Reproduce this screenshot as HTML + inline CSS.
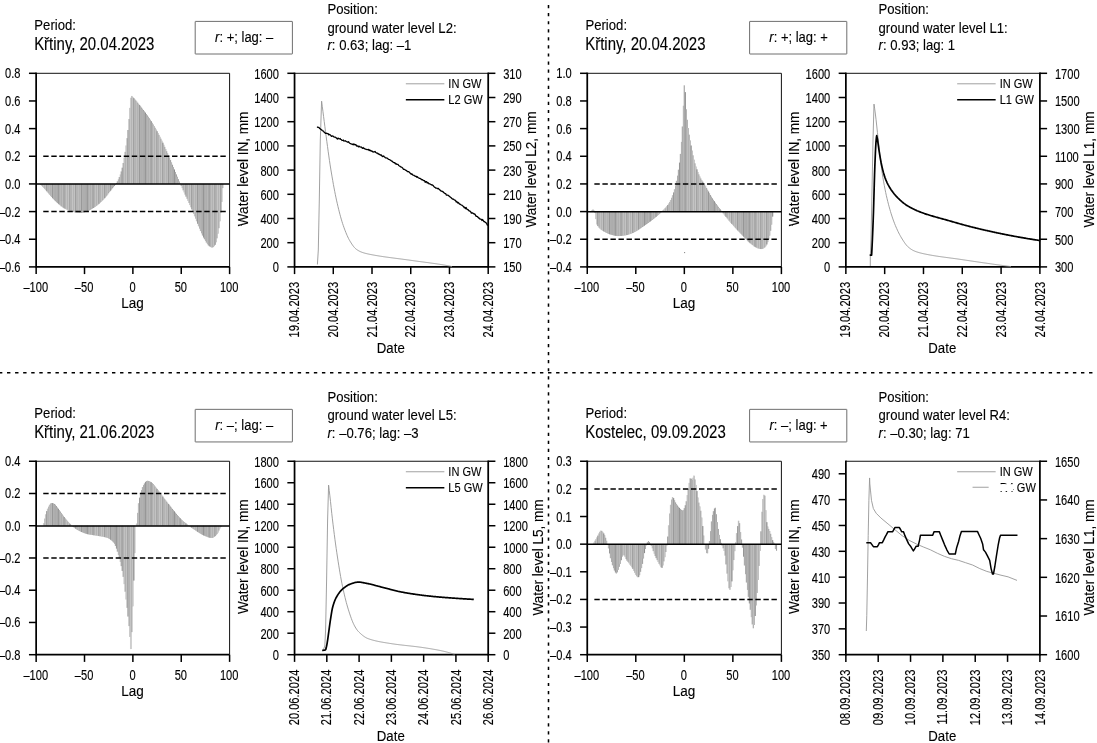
<!DOCTYPE html>
<html lang="en"><head><meta charset="utf-8"><title>Cross-correlation of water levels</title>
<style>html,body{margin:0;padding:0;background:#fff}body{width:1097px;height:743px;overflow:hidden}svg{display:block;will-change:transform}text{font-family:"Liberation Sans",Arial,sans-serif;stroke:#000;stroke-width:0.13px;paint-order:stroke}</style>
</head><body>
<svg width="1097" height="743" viewBox="0 0 1097 743" font-family="Liberation Sans, Arial, sans-serif">
<rect width="1097" height="743" fill="#fff"/>
<line x1="548.50" y1="5.00" x2="548.50" y2="743.00" stroke="#000" stroke-width="1.55" stroke-dasharray="3.2 4.87"/>
<line x1="-1.07" y1="372.75" x2="1097.00" y2="372.75" stroke="#000" stroke-width="1.65" stroke-dasharray="3.4 4.675"/>
<g fill="#9b9b9b"><rect x="40.50" y="183.93" width="0.996" height="1.01"/><rect x="41.47" y="183.93" width="0.996" height="2.04"/><rect x="42.44" y="183.93" width="0.996" height="3.07"/><rect x="43.40" y="183.93" width="0.996" height="4.11"/><rect x="44.37" y="183.93" width="0.996" height="5.16"/><rect x="45.34" y="183.93" width="0.996" height="6.22"/><rect x="46.31" y="183.93" width="0.996" height="7.32"/><rect x="47.27" y="183.93" width="0.996" height="8.45"/><rect x="48.24" y="183.93" width="0.996" height="9.61"/><rect x="49.21" y="183.93" width="0.996" height="10.79"/><rect x="50.18" y="183.93" width="0.996" height="11.96"/><rect x="51.14" y="183.93" width="0.996" height="13.12"/><rect x="52.11" y="183.93" width="0.996" height="14.24"/><rect x="53.08" y="183.93" width="0.996" height="15.32"/><rect x="54.04" y="183.93" width="0.996" height="16.34"/><rect x="55.01" y="183.93" width="0.996" height="17.29"/><rect x="55.98" y="183.93" width="0.996" height="18.19"/><rect x="56.95" y="183.93" width="0.996" height="19.08"/><rect x="57.91" y="183.93" width="0.996" height="19.95"/><rect x="58.88" y="183.93" width="0.996" height="20.80"/><rect x="59.85" y="183.93" width="0.996" height="21.62"/><rect x="60.81" y="183.93" width="0.996" height="22.40"/><rect x="61.78" y="183.93" width="0.996" height="23.12"/><rect x="62.75" y="183.93" width="0.996" height="23.78"/><rect x="63.72" y="183.93" width="0.996" height="24.37"/><rect x="64.68" y="183.93" width="0.996" height="24.89"/><rect x="65.65" y="183.93" width="0.996" height="25.36"/><rect x="66.62" y="183.93" width="0.996" height="25.80"/><rect x="67.59" y="183.93" width="0.996" height="26.22"/><rect x="68.55" y="183.93" width="0.996" height="26.61"/><rect x="69.52" y="183.93" width="0.996" height="26.98"/><rect x="70.49" y="183.93" width="0.996" height="27.32"/><rect x="71.45" y="183.93" width="0.996" height="27.62"/><rect x="72.42" y="183.93" width="0.996" height="27.90"/><rect x="73.39" y="183.93" width="0.996" height="28.14"/><rect x="74.36" y="183.93" width="0.996" height="28.35"/><rect x="75.32" y="183.93" width="0.996" height="28.54"/><rect x="76.29" y="183.93" width="0.996" height="28.73"/><rect x="77.26" y="183.93" width="0.996" height="28.89"/><rect x="78.23" y="183.93" width="0.996" height="29.00"/><rect x="79.19" y="183.93" width="0.996" height="29.04"/><rect x="80.16" y="183.93" width="0.996" height="29.00"/><rect x="81.13" y="183.93" width="0.996" height="28.89"/><rect x="82.09" y="183.93" width="0.996" height="28.74"/><rect x="83.06" y="183.93" width="0.996" height="28.55"/><rect x="84.03" y="183.93" width="0.996" height="28.35"/><rect x="85.00" y="183.93" width="0.996" height="28.10"/><rect x="85.96" y="183.93" width="0.996" height="27.78"/><rect x="86.93" y="183.93" width="0.996" height="27.39"/><rect x="87.90" y="183.93" width="0.996" height="26.94"/><rect x="88.87" y="183.93" width="0.996" height="26.44"/><rect x="89.83" y="183.93" width="0.996" height="25.90"/><rect x="90.80" y="183.93" width="0.996" height="25.33"/><rect x="91.77" y="183.93" width="0.996" height="24.73"/><rect x="92.73" y="183.93" width="0.996" height="24.12"/><rect x="93.70" y="183.93" width="0.996" height="23.51"/><rect x="94.67" y="183.93" width="0.996" height="22.87"/><rect x="95.64" y="183.93" width="0.996" height="22.18"/><rect x="96.60" y="183.93" width="0.996" height="21.44"/><rect x="97.57" y="183.93" width="0.996" height="20.66"/><rect x="98.54" y="183.93" width="0.996" height="19.83"/><rect x="99.50" y="183.93" width="0.996" height="18.97"/><rect x="100.47" y="183.93" width="0.996" height="18.08"/><rect x="101.44" y="183.93" width="0.996" height="17.15"/><rect x="102.41" y="183.93" width="0.996" height="16.19"/><rect x="103.37" y="183.93" width="0.996" height="15.21"/><rect x="104.34" y="183.93" width="0.996" height="14.17"/><rect x="105.31" y="183.93" width="0.996" height="13.04"/><rect x="106.28" y="183.93" width="0.996" height="11.85"/><rect x="107.24" y="183.93" width="0.996" height="10.60"/><rect x="108.21" y="183.93" width="0.996" height="9.33"/><rect x="109.18" y="183.93" width="0.996" height="8.05"/><rect x="110.14" y="183.93" width="0.996" height="6.77"/><rect x="111.11" y="183.93" width="0.996" height="5.53"/><rect x="112.08" y="183.93" width="0.996" height="4.37"/><rect x="113.05" y="183.93" width="0.996" height="3.25"/><rect x="114.01" y="183.93" width="0.996" height="2.08"/><rect x="114.98" y="183.93" width="0.996" height="0.75"/><rect x="115.95" y="183.12" width="0.996" height="0.81"/><rect x="116.92" y="181.34" width="0.996" height="2.59"/><rect x="117.88" y="179.33" width="0.996" height="4.60"/><rect x="118.85" y="177.04" width="0.996" height="6.89"/><rect x="119.82" y="174.44" width="0.996" height="9.49"/><rect x="120.78" y="171.48" width="0.996" height="12.45"/><rect x="121.75" y="167.72" width="0.996" height="16.21"/><rect x="122.72" y="162.98" width="0.996" height="20.95"/><rect x="123.69" y="157.65" width="0.996" height="26.27"/><rect x="124.65" y="151.89" width="0.996" height="32.04"/><rect x="125.62" y="145.45" width="0.996" height="38.48"/><rect x="126.59" y="138.20" width="0.996" height="45.72"/><rect x="127.56" y="130.00" width="0.996" height="53.93"/><rect x="128.52" y="119.07" width="0.996" height="64.85"/><rect x="129.49" y="107.87" width="0.996" height="76.06"/><rect x="130.46" y="97.82" width="0.996" height="86.10"/><rect x="131.42" y="95.95" width="0.996" height="87.98"/><rect x="132.39" y="97.09" width="0.996" height="86.84"/><rect x="133.36" y="98.11" width="0.996" height="85.82"/><rect x="134.33" y="99.19" width="0.996" height="84.74"/><rect x="135.29" y="100.31" width="0.996" height="83.62"/><rect x="136.26" y="101.46" width="0.996" height="82.46"/><rect x="137.23" y="102.65" width="0.996" height="81.28"/><rect x="138.19" y="103.86" width="0.996" height="80.07"/><rect x="139.16" y="105.08" width="0.996" height="78.85"/><rect x="140.13" y="106.30" width="0.996" height="77.62"/><rect x="141.10" y="107.54" width="0.996" height="76.39"/><rect x="142.06" y="108.79" width="0.996" height="75.14"/><rect x="143.03" y="110.05" width="0.996" height="73.87"/><rect x="144.00" y="111.34" width="0.996" height="72.59"/><rect x="144.97" y="112.65" width="0.996" height="71.28"/><rect x="145.93" y="113.99" width="0.996" height="69.94"/><rect x="146.90" y="115.36" width="0.996" height="68.57"/><rect x="147.87" y="116.76" width="0.996" height="67.17"/><rect x="148.83" y="118.21" width="0.996" height="65.72"/><rect x="149.80" y="119.69" width="0.996" height="64.24"/><rect x="150.77" y="121.22" width="0.996" height="62.71"/><rect x="151.74" y="122.80" width="0.996" height="61.13"/><rect x="152.70" y="124.41" width="0.996" height="59.52"/><rect x="153.67" y="126.06" width="0.996" height="57.86"/><rect x="154.64" y="127.76" width="0.996" height="56.17"/><rect x="155.61" y="129.49" width="0.996" height="54.44"/><rect x="156.57" y="131.25" width="0.996" height="52.68"/><rect x="157.54" y="133.05" width="0.996" height="50.88"/><rect x="158.51" y="134.88" width="0.996" height="49.05"/><rect x="159.47" y="136.75" width="0.996" height="47.17"/><rect x="160.44" y="138.68" width="0.996" height="45.25"/><rect x="161.41" y="140.67" width="0.996" height="43.26"/><rect x="162.38" y="142.69" width="0.996" height="41.24"/><rect x="163.34" y="144.76" width="0.996" height="39.17"/><rect x="164.31" y="146.87" width="0.996" height="37.06"/><rect x="165.28" y="149.00" width="0.996" height="34.93"/><rect x="166.25" y="151.16" width="0.996" height="32.77"/><rect x="167.21" y="153.33" width="0.996" height="30.59"/><rect x="168.18" y="155.52" width="0.996" height="28.41"/><rect x="169.15" y="157.75" width="0.996" height="26.17"/><rect x="170.11" y="160.04" width="0.996" height="23.89"/><rect x="171.08" y="162.37" width="0.996" height="21.56"/><rect x="172.05" y="164.74" width="0.996" height="19.19"/><rect x="173.02" y="167.13" width="0.996" height="16.79"/><rect x="173.98" y="169.54" width="0.996" height="14.39"/><rect x="174.95" y="171.95" width="0.996" height="11.98"/><rect x="175.92" y="174.36" width="0.996" height="9.57"/><rect x="176.88" y="176.75" width="0.996" height="7.18"/><rect x="177.85" y="179.11" width="0.996" height="4.82"/><rect x="178.82" y="181.43" width="0.996" height="2.50"/><rect x="179.79" y="183.70" width="0.996" height="0.22"/><rect x="180.75" y="183.93" width="0.996" height="2.00"/><rect x="181.72" y="183.93" width="0.996" height="4.19"/><rect x="182.69" y="183.93" width="0.996" height="6.35"/><rect x="183.66" y="183.93" width="0.996" height="8.48"/><rect x="184.62" y="183.93" width="0.996" height="10.60"/><rect x="185.59" y="183.93" width="0.996" height="12.70"/><rect x="186.56" y="183.93" width="0.996" height="14.80"/><rect x="187.52" y="183.93" width="0.996" height="16.91"/><rect x="188.49" y="183.93" width="0.996" height="19.02"/><rect x="189.46" y="183.93" width="0.996" height="21.14"/><rect x="190.43" y="183.93" width="0.996" height="23.28"/><rect x="191.39" y="183.93" width="0.996" height="25.45"/><rect x="192.36" y="183.93" width="0.996" height="27.66"/><rect x="193.33" y="183.93" width="0.996" height="29.94"/><rect x="194.30" y="183.93" width="0.996" height="32.33"/><rect x="195.26" y="183.93" width="0.996" height="34.79"/><rect x="196.23" y="183.93" width="0.996" height="37.29"/><rect x="197.20" y="183.93" width="0.996" height="39.81"/><rect x="198.16" y="183.93" width="0.996" height="42.31"/><rect x="199.13" y="183.93" width="0.996" height="44.77"/><rect x="200.10" y="183.93" width="0.996" height="47.15"/><rect x="201.07" y="183.93" width="0.996" height="49.42"/><rect x="202.03" y="183.93" width="0.996" height="51.56"/><rect x="203.00" y="183.93" width="0.996" height="53.54"/><rect x="203.97" y="183.93" width="0.996" height="55.31"/><rect x="204.94" y="183.93" width="0.996" height="57.00"/><rect x="205.90" y="183.93" width="0.996" height="58.63"/><rect x="206.87" y="183.93" width="0.996" height="60.12"/><rect x="207.84" y="183.93" width="0.996" height="61.35"/><rect x="208.80" y="183.93" width="0.996" height="62.23"/><rect x="209.77" y="183.93" width="0.996" height="62.88"/><rect x="210.74" y="183.93" width="0.996" height="63.40"/><rect x="211.71" y="183.93" width="0.996" height="63.61"/><rect x="212.67" y="183.93" width="0.996" height="63.22"/><rect x="213.64" y="183.93" width="0.996" height="62.22"/><rect x="214.61" y="183.93" width="0.996" height="60.85"/><rect x="215.57" y="183.93" width="0.996" height="58.37"/><rect x="216.54" y="183.93" width="0.996" height="54.42"/><rect x="217.51" y="183.93" width="0.996" height="49.78"/><rect x="218.48" y="183.93" width="0.996" height="44.28"/><rect x="219.44" y="183.93" width="0.996" height="37.34"/><rect x="220.41" y="183.93" width="0.996" height="28.67"/><rect x="221.38" y="183.93" width="0.996" height="17.98"/><rect x="222.35" y="183.93" width="0.996" height="4.15"/></g>
<path d="M41.47 183.93v2.04M43.40 183.93v4.11M45.34 183.93v6.22M47.27 183.93v8.45M49.21 183.93v10.79M51.14 183.93v13.12M53.08 183.93v15.32M55.01 183.93v17.29M56.95 183.93v19.08M58.88 183.93v20.80M60.81 183.93v22.40M62.75 183.93v23.78M64.68 183.93v24.89M66.62 183.93v25.80M68.55 183.93v26.61M70.49 183.93v27.32M72.42 183.93v27.90M74.36 183.93v28.35M76.29 183.93v28.73M78.23 183.93v29.00M80.16 183.93v29.00M82.09 183.93v28.74M84.03 183.93v28.35M85.96 183.93v27.78M87.90 183.93v26.94M89.83 183.93v25.90M91.77 183.93v24.73M93.70 183.93v23.51M95.64 183.93v22.18M97.57 183.93v20.66M99.50 183.93v18.97M101.44 183.93v17.15M103.37 183.93v15.21M105.31 183.93v13.04M107.24 183.93v10.60M109.18 183.93v8.05M111.11 183.93v5.53M113.05 183.93v3.25M114.98 183.93v0.75M116.92 181.34v2.59M118.85 177.04v6.89M120.78 171.48v12.45M122.72 162.98v20.95M124.65 151.89v32.04M126.59 138.20v45.72M128.52 119.07v64.85M130.46 97.82v86.10M132.39 97.09v86.84M134.33 99.19v84.74M136.26 101.46v82.46M138.19 103.86v80.07M140.13 106.30v77.62M142.06 108.79v75.14M144.00 111.34v72.59M145.93 113.99v69.94M147.87 116.76v67.17M149.80 119.69v64.24M151.74 122.80v61.13M153.67 126.06v57.86M155.61 129.49v54.44M157.54 133.05v50.88M159.47 136.75v47.17M161.41 140.67v43.26M163.34 144.76v39.17M165.28 149.00v34.93M167.21 153.33v30.59M169.15 157.75v26.17M171.08 162.37v21.56M173.02 167.13v16.79M174.95 171.95v11.98M176.88 176.75v7.18M178.82 181.43v2.50M180.75 183.93v2.00M182.69 183.93v6.35M184.62 183.93v10.60M186.56 183.93v14.80M188.49 183.93v19.02M190.43 183.93v23.28M192.36 183.93v27.66M194.30 183.93v32.33M196.23 183.93v37.29M198.16 183.93v42.31M200.10 183.93v47.15M202.03 183.93v51.56M203.97 183.93v55.31M205.90 183.93v58.63M207.84 183.93v61.35M209.77 183.93v62.88M211.71 183.93v63.61M213.64 183.93v62.22M215.57 183.93v58.37M217.51 183.93v49.78M219.44 183.93v37.34M221.38 183.93v17.98" stroke="#d2d2d2" stroke-width="0.62" fill="none"/>
<path d="M40.99 183.93v1.01M46.79 183.93v7.32M52.59 183.93v14.24M58.40 183.93v19.95M64.20 183.93v24.37M70.00 183.93v26.98M75.81 183.93v28.54M81.61 183.93v28.89M87.41 183.93v27.39M93.22 183.93v24.12M99.02 183.93v19.83M104.82 183.93v14.17M110.63 183.93v6.77M116.43 183.12v0.81M122.24 167.72v16.21M128.04 130.00v53.93M133.84 98.11v85.82M139.65 105.08v78.85M145.45 112.65v71.28M151.25 121.22v62.71M157.06 131.25v52.68M162.86 142.69v41.24M168.66 155.52v28.41M174.47 169.54v14.39M180.27 183.70v0.22M186.07 183.93v12.70M191.88 183.93v25.45M197.68 183.93v39.81M203.48 183.93v53.54M209.29 183.93v62.23M215.09 183.93v60.85M220.89 183.93v28.67" stroke="#7c7c7c" stroke-width="0.5" fill="none"/>
<line x1="36.15" y1="73.30" x2="229.60" y2="73.30" stroke="#111" stroke-width="1.0" />
<line x1="229.60" y1="73.30" x2="229.60" y2="266.90" stroke="#111" stroke-width="1.0" />
<line x1="36.15" y1="72.60" x2="36.15" y2="267.60" stroke="#000" stroke-width="1.75" />
<line x1="36.15" y1="266.90" x2="229.60" y2="266.90" stroke="#000" stroke-width="1.75" />
<line x1="36.15" y1="184.08" x2="229.60" y2="184.08" stroke="#000" stroke-width="1.5" />
<line x1="43.25" y1="156.27" x2="227.10" y2="156.27" stroke="#000" stroke-width="1.5" stroke-dasharray="5.4 2.65"/>
<line x1="43.25" y1="211.59" x2="227.10" y2="211.59" stroke="#000" stroke-width="1.5" stroke-dasharray="5.4 2.65"/>
<line x1="28.95" y1="73.30" x2="36.15" y2="73.30" stroke="#000" stroke-width="1.5" />
<text transform="translate(20.55,78.30) scale(0.793,1)" font-size="14.0" text-anchor="end" fill="#000" >0.8</text>
<line x1="28.95" y1="100.96" x2="36.15" y2="100.96" stroke="#000" stroke-width="1.5" />
<text transform="translate(20.55,105.96) scale(0.793,1)" font-size="14.0" text-anchor="end" fill="#000" >0.6</text>
<line x1="28.95" y1="128.61" x2="36.15" y2="128.61" stroke="#000" stroke-width="1.5" />
<text transform="translate(20.55,133.61) scale(0.793,1)" font-size="14.0" text-anchor="end" fill="#000" >0.4</text>
<line x1="28.95" y1="156.27" x2="36.15" y2="156.27" stroke="#000" stroke-width="1.5" />
<text transform="translate(20.55,161.27) scale(0.793,1)" font-size="14.0" text-anchor="end" fill="#000" >0.2</text>
<line x1="28.95" y1="183.93" x2="36.15" y2="183.93" stroke="#000" stroke-width="1.5" />
<text transform="translate(20.55,188.93) scale(0.793,1)" font-size="14.0" text-anchor="end" fill="#000" >0.0</text>
<line x1="28.95" y1="211.59" x2="36.15" y2="211.59" stroke="#000" stroke-width="1.5" />
<text transform="translate(20.55,216.59) scale(0.793,1)" font-size="14.0" text-anchor="end" fill="#000" >–0.2</text>
<line x1="28.95" y1="239.24" x2="36.15" y2="239.24" stroke="#000" stroke-width="1.5" />
<text transform="translate(20.55,244.24) scale(0.793,1)" font-size="14.0" text-anchor="end" fill="#000" >–0.4</text>
<line x1="28.95" y1="266.90" x2="36.15" y2="266.90" stroke="#000" stroke-width="1.5" />
<text transform="translate(20.55,271.90) scale(0.793,1)" font-size="14.0" text-anchor="end" fill="#000" >–0.6</text>
<line x1="36.15" y1="266.90" x2="36.15" y2="274.10" stroke="#000" stroke-width="1.5" />
<text transform="translate(35.75,291.80) scale(0.793,1)" font-size="14.0" text-anchor="middle" fill="#000" >–100</text>
<line x1="84.51" y1="266.90" x2="84.51" y2="274.10" stroke="#000" stroke-width="1.5" />
<text transform="translate(84.11,291.80) scale(0.793,1)" font-size="14.0" text-anchor="middle" fill="#000" >–50</text>
<line x1="132.88" y1="266.90" x2="132.88" y2="274.10" stroke="#000" stroke-width="1.5" />
<text transform="translate(132.47,291.80) scale(0.793,1)" font-size="14.0" text-anchor="middle" fill="#000" >0</text>
<line x1="181.24" y1="266.90" x2="181.24" y2="274.10" stroke="#000" stroke-width="1.5" />
<text transform="translate(180.84,291.80) scale(0.793,1)" font-size="14.0" text-anchor="middle" fill="#000" >50</text>
<line x1="229.60" y1="266.90" x2="229.60" y2="274.10" stroke="#000" stroke-width="1.5" />
<text transform="translate(229.20,291.80) scale(0.793,1)" font-size="14.0" text-anchor="middle" fill="#000" >100</text>
<text transform="translate(132.47,307.90) scale(0.89,1)" font-size="15.2" text-anchor="middle" fill="#000" >Lag</text>
<text transform="translate(34.35,29.70) scale(0.847,1)" font-size="15.5" text-anchor="start" fill="#000" >Period:</text>
<text transform="translate(34.15,49.70) scale(0.855,1)" font-size="17.5" text-anchor="start" fill="#000" >Křtiny, 20.04.2023</text>
<rect x="195.20" y="21.40" width="97.2" height="32.6" rx="0.3" fill="#fff" stroke="#5e5e5e" stroke-width="0.9"/>
<text transform="translate(244.20,41.70) scale(0.84,1)" font-size="15.5" text-anchor="middle" fill="#000" ><tspan font-style="italic">r</tspan>: +; lag: –</text>
<text transform="translate(327.45,14.10) scale(0.847,1)" font-size="15.5" text-anchor="start" fill="#000" >Position:</text>
<text transform="translate(327.45,32.50) scale(0.847,1)" font-size="15.5" text-anchor="start" fill="#000" >ground water level L2:</text>
<text transform="translate(327.45,50.30) scale(0.847,1)" font-size="15.5" text-anchor="start" fill="#000" ><tspan font-style="italic">r</tspan>: 0.63; lag: –1</text>
<line x1="294.55" y1="73.30" x2="488.20" y2="73.30" stroke="#111" stroke-width="1.0" />
<line x1="294.55" y1="72.60" x2="294.55" y2="267.60" stroke="#000" stroke-width="1.75" />
<line x1="294.55" y1="266.90" x2="488.20" y2="266.90" stroke="#000" stroke-width="1.75" />
<line x1="488.20" y1="72.60" x2="488.20" y2="267.60" stroke="#000" stroke-width="1.75" />
<line x1="287.35" y1="266.90" x2="294.55" y2="266.90" stroke="#000" stroke-width="1.5" />
<text transform="translate(278.95,272.30) scale(0.793,1)" font-size="14.0" text-anchor="end" fill="#000" >0</text>
<line x1="287.35" y1="242.70" x2="294.55" y2="242.70" stroke="#000" stroke-width="1.5" />
<text transform="translate(278.95,248.10) scale(0.793,1)" font-size="14.0" text-anchor="end" fill="#000" >200</text>
<line x1="287.35" y1="218.50" x2="294.55" y2="218.50" stroke="#000" stroke-width="1.5" />
<text transform="translate(278.95,223.90) scale(0.793,1)" font-size="14.0" text-anchor="end" fill="#000" >400</text>
<line x1="287.35" y1="194.30" x2="294.55" y2="194.30" stroke="#000" stroke-width="1.5" />
<text transform="translate(278.95,199.70) scale(0.793,1)" font-size="14.0" text-anchor="end" fill="#000" >600</text>
<line x1="287.35" y1="170.10" x2="294.55" y2="170.10" stroke="#000" stroke-width="1.5" />
<text transform="translate(278.95,175.50) scale(0.793,1)" font-size="14.0" text-anchor="end" fill="#000" >800</text>
<line x1="287.35" y1="145.90" x2="294.55" y2="145.90" stroke="#000" stroke-width="1.5" />
<text transform="translate(278.95,151.30) scale(0.793,1)" font-size="14.0" text-anchor="end" fill="#000" >1000</text>
<line x1="287.35" y1="121.70" x2="294.55" y2="121.70" stroke="#000" stroke-width="1.5" />
<text transform="translate(278.95,127.10) scale(0.793,1)" font-size="14.0" text-anchor="end" fill="#000" >1200</text>
<line x1="287.35" y1="97.50" x2="294.55" y2="97.50" stroke="#000" stroke-width="1.5" />
<text transform="translate(278.95,102.90) scale(0.793,1)" font-size="14.0" text-anchor="end" fill="#000" >1400</text>
<line x1="287.35" y1="73.30" x2="294.55" y2="73.30" stroke="#000" stroke-width="1.5" />
<text transform="translate(278.95,78.70) scale(0.793,1)" font-size="14.0" text-anchor="end" fill="#000" >1600</text>
<line x1="488.20" y1="266.90" x2="495.40" y2="266.90" stroke="#000" stroke-width="1.5" />
<text transform="translate(503.20,272.30) scale(0.793,1)" font-size="14.0" text-anchor="start" fill="#000" >150</text>
<line x1="488.20" y1="242.70" x2="495.40" y2="242.70" stroke="#000" stroke-width="1.5" />
<text transform="translate(503.20,248.10) scale(0.793,1)" font-size="14.0" text-anchor="start" fill="#000" >170</text>
<line x1="488.20" y1="218.50" x2="495.40" y2="218.50" stroke="#000" stroke-width="1.5" />
<text transform="translate(503.20,223.90) scale(0.793,1)" font-size="14.0" text-anchor="start" fill="#000" >190</text>
<line x1="488.20" y1="194.30" x2="495.40" y2="194.30" stroke="#000" stroke-width="1.5" />
<text transform="translate(503.20,199.70) scale(0.793,1)" font-size="14.0" text-anchor="start" fill="#000" >210</text>
<line x1="488.20" y1="170.10" x2="495.40" y2="170.10" stroke="#000" stroke-width="1.5" />
<text transform="translate(503.20,175.50) scale(0.793,1)" font-size="14.0" text-anchor="start" fill="#000" >230</text>
<line x1="488.20" y1="145.90" x2="495.40" y2="145.90" stroke="#000" stroke-width="1.5" />
<text transform="translate(503.20,151.30) scale(0.793,1)" font-size="14.0" text-anchor="start" fill="#000" >250</text>
<line x1="488.20" y1="121.70" x2="495.40" y2="121.70" stroke="#000" stroke-width="1.5" />
<text transform="translate(503.20,127.10) scale(0.793,1)" font-size="14.0" text-anchor="start" fill="#000" >270</text>
<line x1="488.20" y1="97.50" x2="495.40" y2="97.50" stroke="#000" stroke-width="1.5" />
<text transform="translate(503.20,102.90) scale(0.793,1)" font-size="14.0" text-anchor="start" fill="#000" >290</text>
<line x1="488.20" y1="73.30" x2="495.40" y2="73.30" stroke="#000" stroke-width="1.5" />
<text transform="translate(503.20,78.70) scale(0.793,1)" font-size="14.0" text-anchor="start" fill="#000" >310</text>
<line x1="294.55" y1="266.90" x2="294.55" y2="274.10" stroke="#000" stroke-width="1.5" />
<text transform="translate(299.15,281.90) rotate(-90) scale(0.793,1)" font-size="14.0" text-anchor="end" fill="#000" >19.04.2023</text>
<line x1="333.28" y1="266.90" x2="333.28" y2="274.10" stroke="#000" stroke-width="1.5" />
<text transform="translate(337.88,281.90) rotate(-90) scale(0.793,1)" font-size="14.0" text-anchor="end" fill="#000" >20.04.2023</text>
<line x1="372.01" y1="266.90" x2="372.01" y2="274.10" stroke="#000" stroke-width="1.5" />
<text transform="translate(376.61,281.90) rotate(-90) scale(0.793,1)" font-size="14.0" text-anchor="end" fill="#000" >21.04.2023</text>
<line x1="410.74" y1="266.90" x2="410.74" y2="274.10" stroke="#000" stroke-width="1.5" />
<text transform="translate(415.34,281.90) rotate(-90) scale(0.793,1)" font-size="14.0" text-anchor="end" fill="#000" >22.04.2023</text>
<line x1="449.47" y1="266.90" x2="449.47" y2="274.10" stroke="#000" stroke-width="1.5" />
<text transform="translate(454.07,281.90) rotate(-90) scale(0.793,1)" font-size="14.0" text-anchor="end" fill="#000" >23.04.2023</text>
<line x1="488.20" y1="266.90" x2="488.20" y2="274.10" stroke="#000" stroke-width="1.5" />
<text transform="translate(492.80,281.90) rotate(-90) scale(0.793,1)" font-size="14.0" text-anchor="end" fill="#000" >24.04.2023</text>
<text transform="translate(390.77,353.20) scale(0.87,1)" font-size="15.2" text-anchor="middle" fill="#000" >Date</text>
<text transform="translate(247.85,168.90) rotate(-90) scale(0.885,1)" font-size="15.3" text-anchor="middle" fill="#000" >Water level IN, mm</text>
<text transform="translate(536.30,169.60) rotate(-90) scale(0.885,1)" font-size="15.3" text-anchor="middle" fill="#000" >Water level L2, mm</text>
<polyline points="317.40,264.50 318.30,250.00 319.30,200.00 320.30,140.00 321.60,101.20 321.60,101.20 322.26,106.25 322.91,111.31 323.57,116.40 324.22,121.53 324.88,126.66 325.53,131.74 326.19,136.73 326.84,141.58 327.50,146.41 328.15,151.21 328.81,155.92 329.46,160.50 330.12,164.89 330.77,169.04 331.43,173.01 332.08,176.89 332.74,180.67 333.39,184.36 334.05,187.93 334.71,191.38 335.36,194.69 336.02,197.87 336.67,200.90 337.33,203.78 337.98,206.56 338.64,209.26 339.29,211.88 339.95,214.40 340.60,216.82 341.26,219.13 341.91,221.34 342.57,223.43 343.22,225.39 343.88,227.25 344.53,229.05 345.19,230.78 345.85,232.45 346.50,234.04 347.16,235.56 347.81,236.99 348.47,238.33 349.12,239.58 349.78,240.73 350.43,241.83 351.09,242.89 351.74,243.92 352.40,244.89 353.05,245.81 353.71,246.66 354.36,247.44 355.02,248.13 355.67,248.74 356.33,249.25 356.98,249.72 357.64,250.15 358.30,250.56 358.95,250.93 359.61,251.27 360.26,251.59 360.92,251.87 361.57,252.14 362.23,252.37 362.88,252.59 363.54,252.80 364.19,253.00 364.85,253.18 365.50,253.36 366.16,253.52 366.81,253.68 367.47,253.83 368.12,253.98 368.78,254.12 369.44,254.25 370.09,254.38 370.75,254.51 371.40,254.64 372.06,254.76 372.71,254.88 373.37,255.01 374.02,255.13 374.68,255.24 375.33,255.36 375.99,255.47 376.64,255.59 377.30,255.70 377.95,255.81 378.61,255.91 379.26,256.02 379.92,256.12 380.57,256.23 381.23,256.33 381.89,256.43 382.54,256.53 383.20,256.63 383.85,256.72 384.51,256.82 385.16,256.91 385.82,257.00 386.47,257.10 387.13,257.19 387.78,257.28 388.44,257.37 389.09,257.46 389.75,257.55 390.40,257.63 391.06,257.72 391.71,257.81 392.37,257.89 393.03,257.98 393.68,258.06 394.34,258.15 394.99,258.23 395.65,258.32 396.30,258.40 396.96,258.48 397.61,258.57 398.27,258.65 398.92,258.74 399.58,258.82 400.23,258.90 400.89,258.99 401.54,259.07 402.20,259.16 402.85,259.24 403.51,259.33 404.16,259.42 404.82,259.50 405.48,259.59 406.13,259.68 406.79,259.77 407.44,259.86 408.10,259.95 408.75,260.04 409.41,260.13 410.06,260.22 410.72,260.32 411.37,260.41 412.03,260.50 412.68,260.60 413.34,260.69 413.99,260.78 414.65,260.87 415.30,260.96 415.96,261.05 416.62,261.14 417.27,261.22 417.93,261.31 418.58,261.40 419.24,261.49 419.89,261.57 420.55,261.66 421.20,261.75 421.86,261.83 422.51,261.92 423.17,262.01 423.82,262.09 424.48,262.18 425.13,262.27 425.79,262.35 426.44,262.44 427.10,262.53 427.75,262.61 428.41,262.70 429.07,262.79 429.72,262.88 430.38,262.97 431.03,263.06 431.69,263.15 432.34,263.24 433.00,263.33 433.65,263.42 434.31,263.52 434.96,263.61 435.62,263.71 436.27,263.80 436.93,263.90 437.58,264.00 438.24,264.10 438.89,264.20 439.55,264.30 440.21,264.40 440.86,264.50 441.52,264.61 442.17,264.71 442.83,264.82 443.48,264.93 444.14,265.04 444.79,265.15 445.45,265.27 446.10,265.38 446.76,265.50 447.41,265.62 448.07,265.74 448.72,265.86 449.38,266.00 450.03,266.14 450.69,266.29 451.34,266.45 452.00,266.60" fill="none" stroke="#969696" stroke-width="0.9" stroke-linejoin="round" />
<polyline points="316.90,127.03 317.56,127.07 318.22,127.46 318.88,127.29 319.54,128.35 320.20,128.83 320.86,129.45 321.52,129.78 322.18,130.52 322.84,130.88 323.50,131.07 324.16,132.30 324.82,132.70 325.48,133.38 326.14,133.18 326.80,133.37 327.46,133.67 328.12,133.65 328.78,134.86 329.44,134.45 330.10,134.73 330.76,135.37 331.43,136.26 332.09,136.12 332.75,135.97 333.41,136.37 334.07,137.13 334.73,137.14 335.39,137.21 336.05,137.67 336.71,138.29 337.37,138.99 338.03,138.13 338.69,138.61 339.35,138.81 340.01,138.50 340.67,139.28 341.33,139.50 341.99,140.50 342.65,140.31 343.31,140.04 343.97,141.08 344.63,140.98 345.29,140.74 345.95,141.38 346.61,141.63 347.27,141.77 347.93,142.33 348.59,141.77 349.25,142.71 349.91,143.40 350.57,143.58 351.23,143.91 351.89,144.16 352.55,144.53 353.21,143.86 353.87,144.80 354.53,144.10 355.19,144.78 355.85,144.57 356.51,145.86 357.17,146.21 357.83,145.92 358.49,146.85 359.15,146.24 359.82,146.77 360.48,147.01 361.14,146.82 361.80,147.58 362.46,148.35 363.12,147.55 363.78,148.46 364.44,148.32 365.10,149.24 365.76,149.03 366.42,149.33 367.08,149.56 367.74,149.67 368.40,149.34 369.06,150.56 369.72,149.84 370.38,150.66 371.04,151.05 371.70,150.80 372.36,151.40 373.02,152.03 373.68,151.88 374.34,151.85 375.00,151.42 375.66,152.39 376.32,152.81 376.98,153.12 377.64,153.26 378.30,154.03 378.96,154.00 379.62,154.47 380.28,155.06 380.94,154.84 381.60,155.36 382.26,156.54 382.92,156.43 383.58,156.00 384.24,156.77 384.90,157.34 385.56,157.92 386.22,157.90 386.88,158.02 387.54,158.32 388.21,159.18 388.87,159.45 389.53,159.54 390.19,160.05 390.85,160.37 391.51,161.17 392.17,161.08 392.83,161.90 393.49,162.44 394.15,162.73 394.81,162.68 395.47,163.86 396.13,163.58 396.79,164.38 397.45,164.39 398.11,164.46 398.77,165.57 399.43,166.02 400.09,166.34 400.75,166.90 401.41,167.03 402.07,167.45 402.73,168.10 403.39,169.29 404.05,169.36 404.71,169.35 405.37,170.18 406.03,170.27 406.69,170.72 407.35,171.63 408.01,171.58 408.67,171.61 409.33,172.30 409.99,173.06 410.65,173.48 411.31,174.26 411.97,173.96 412.63,174.85 413.29,175.12 413.95,175.29 414.61,176.00 415.27,176.24 415.93,176.13 416.59,177.16 417.26,176.71 417.92,177.51 418.58,177.84 419.24,178.33 419.90,178.28 420.56,178.87 421.22,179.18 421.88,179.92 422.54,179.65 423.20,180.30 423.86,180.54 424.52,180.54 425.18,182.29 425.84,181.69 426.50,181.57 427.16,182.95 427.82,182.47 428.48,183.35 429.14,183.91 429.80,183.77 430.46,184.23 431.12,184.58 431.78,185.12 432.44,184.99 433.10,185.52 433.76,186.30 434.42,187.11 435.08,187.37 435.74,188.15 436.40,188.20 437.06,188.18 437.72,188.73 438.38,188.47 439.04,189.26 439.70,189.66 440.36,190.53 441.02,191.08 441.68,191.08 442.34,191.49 443.00,191.59 443.66,192.51 444.32,193.08 444.98,193.58 445.65,193.59 446.31,195.00 446.97,195.16 447.63,195.16 448.29,195.45 448.95,195.97 449.61,196.59 450.27,196.98 450.93,197.61 451.59,198.17 452.25,198.83 452.91,199.22 453.57,199.24 454.23,199.89 454.89,200.09 455.55,200.50 456.21,201.85 456.87,201.51 457.53,202.85 458.19,202.52 458.85,203.22 459.51,204.00 460.17,204.12 460.83,204.74 461.49,205.00 462.15,205.41 462.81,206.00 463.47,206.32 464.13,207.60 464.79,207.45 465.45,208.58 466.11,207.51 466.77,208.92 467.43,209.58 468.09,209.74 468.75,210.69 469.41,210.99 470.07,211.12 470.73,211.83 471.39,213.12 472.05,212.68 472.71,213.16 473.37,213.36 474.04,214.03 474.70,214.00 475.36,214.85 476.02,216.25 476.68,216.25 477.34,216.58 478.00,217.23 478.66,218.00 479.32,218.05 479.98,219.06 480.64,219.22 481.30,219.41 481.96,220.46 482.62,219.55 483.28,220.70 483.94,221.51 484.60,221.62 485.26,222.41 485.92,222.77 486.58,223.30 487.24,225.01 487.90,224.82" fill="none" stroke="#000" stroke-width="1.3" stroke-linejoin="round" />
<line x1="405.85" y1="83.80" x2="444.35" y2="83.80" stroke="#969696" stroke-width="0.9" />
<text transform="translate(448.35,88.30) scale(0.85,1)" font-size="13" text-anchor="start" fill="#000" >IN GW</text>
<line x1="405.85" y1="99.80" x2="444.35" y2="99.80" stroke="#000" stroke-width="1.5" />
<text transform="translate(448.35,104.30) scale(0.85,1)" font-size="13" text-anchor="start" fill="#000" >L2 GW</text>
<g fill="#9b9b9b"><rect x="591.62" y="210.38" width="1.000" height="1.20"/><rect x="592.59" y="209.55" width="1.000" height="2.04"/><rect x="593.56" y="210.56" width="1.000" height="1.02"/><rect x="594.53" y="211.59" width="1.000" height="1.31"/><rect x="595.50" y="211.59" width="1.000" height="7.53"/><rect x="596.47" y="211.59" width="1.000" height="12.78"/><rect x="597.44" y="211.59" width="1.000" height="14.49"/><rect x="598.41" y="211.59" width="1.000" height="15.85"/><rect x="599.38" y="211.59" width="1.000" height="16.93"/><rect x="600.36" y="211.59" width="1.000" height="17.80"/><rect x="601.33" y="211.59" width="1.000" height="18.52"/><rect x="602.30" y="211.59" width="1.000" height="19.15"/><rect x="603.27" y="211.59" width="1.000" height="19.74"/><rect x="604.24" y="211.59" width="1.000" height="20.32"/><rect x="605.21" y="211.59" width="1.000" height="20.87"/><rect x="606.18" y="211.59" width="1.000" height="21.37"/><rect x="607.15" y="211.59" width="1.000" height="21.83"/><rect x="608.12" y="211.59" width="1.000" height="22.25"/><rect x="609.09" y="211.59" width="1.000" height="22.62"/><rect x="610.06" y="211.59" width="1.000" height="22.95"/><rect x="611.03" y="211.59" width="1.000" height="23.23"/><rect x="612.00" y="211.59" width="1.000" height="23.49"/><rect x="612.97" y="211.59" width="1.000" height="23.75"/><rect x="613.95" y="211.59" width="1.000" height="23.99"/><rect x="614.92" y="211.59" width="1.000" height="24.20"/><rect x="615.89" y="211.59" width="1.000" height="24.36"/><rect x="616.86" y="211.59" width="1.000" height="24.46"/><rect x="617.83" y="211.59" width="1.000" height="24.47"/><rect x="618.80" y="211.59" width="1.000" height="24.45"/><rect x="619.77" y="211.59" width="1.000" height="24.39"/><rect x="620.74" y="211.59" width="1.000" height="24.30"/><rect x="621.71" y="211.59" width="1.000" height="24.19"/><rect x="622.68" y="211.59" width="1.000" height="24.06"/><rect x="623.65" y="211.59" width="1.000" height="23.93"/><rect x="624.62" y="211.59" width="1.000" height="23.79"/><rect x="625.59" y="211.59" width="1.000" height="23.61"/><rect x="626.57" y="211.59" width="1.000" height="23.39"/><rect x="627.54" y="211.59" width="1.000" height="23.12"/><rect x="628.51" y="211.59" width="1.000" height="22.82"/><rect x="629.48" y="211.59" width="1.000" height="22.48"/><rect x="630.45" y="211.59" width="1.000" height="22.12"/><rect x="631.42" y="211.59" width="1.000" height="21.75"/><rect x="632.39" y="211.59" width="1.000" height="21.35"/><rect x="633.36" y="211.59" width="1.000" height="20.90"/><rect x="634.33" y="211.59" width="1.000" height="20.41"/><rect x="635.30" y="211.59" width="1.000" height="19.87"/><rect x="636.27" y="211.59" width="1.000" height="19.30"/><rect x="637.24" y="211.59" width="1.000" height="18.70"/><rect x="638.21" y="211.59" width="1.000" height="18.08"/><rect x="639.19" y="211.59" width="1.000" height="17.43"/><rect x="640.16" y="211.59" width="1.000" height="16.76"/><rect x="641.13" y="211.59" width="1.000" height="16.08"/><rect x="642.10" y="211.59" width="1.000" height="15.40"/><rect x="643.07" y="211.59" width="1.000" height="14.71"/><rect x="644.04" y="211.59" width="1.000" height="14.02"/><rect x="645.01" y="211.59" width="1.000" height="13.34"/><rect x="645.98" y="211.59" width="1.000" height="12.66"/><rect x="646.95" y="211.59" width="1.000" height="11.97"/><rect x="647.92" y="211.59" width="1.000" height="11.27"/><rect x="648.89" y="211.59" width="1.000" height="10.56"/><rect x="649.86" y="211.59" width="1.000" height="9.83"/><rect x="650.83" y="211.59" width="1.000" height="9.09"/><rect x="651.80" y="211.59" width="1.000" height="8.33"/><rect x="652.78" y="211.59" width="1.000" height="7.56"/><rect x="653.75" y="211.59" width="1.000" height="6.78"/><rect x="654.72" y="211.59" width="1.000" height="5.98"/><rect x="655.69" y="211.59" width="1.000" height="5.17"/><rect x="656.66" y="211.59" width="1.000" height="4.34"/><rect x="657.63" y="211.59" width="1.000" height="3.49"/><rect x="658.60" y="211.59" width="1.000" height="2.62"/><rect x="659.57" y="211.59" width="1.000" height="1.72"/><rect x="660.54" y="211.59" width="1.000" height="0.78"/><rect x="661.51" y="211.39" width="1.000" height="0.20"/><rect x="662.48" y="210.42" width="1.000" height="1.16"/><rect x="663.45" y="209.46" width="1.000" height="2.13"/><rect x="664.42" y="208.47" width="1.000" height="3.12"/><rect x="665.40" y="207.41" width="1.000" height="4.17"/><rect x="666.37" y="206.27" width="1.000" height="5.32"/><rect x="667.34" y="205.00" width="1.000" height="6.59"/><rect x="668.31" y="203.57" width="1.000" height="8.02"/><rect x="669.28" y="201.91" width="1.000" height="9.68"/><rect x="670.25" y="199.97" width="1.000" height="11.62"/><rect x="671.22" y="197.75" width="1.000" height="13.84"/><rect x="672.19" y="195.25" width="1.000" height="16.34"/><rect x="673.16" y="192.46" width="1.000" height="19.13"/><rect x="674.13" y="189.28" width="1.000" height="22.30"/><rect x="675.10" y="185.39" width="1.000" height="26.20"/><rect x="676.07" y="180.81" width="1.000" height="30.78"/><rect x="677.04" y="175.63" width="1.000" height="35.95"/><rect x="678.02" y="169.74" width="1.000" height="41.84"/><rect x="678.99" y="162.66" width="1.000" height="48.92"/><rect x="679.96" y="153.91" width="1.000" height="57.67"/><rect x="680.93" y="141.87" width="1.000" height="69.71"/><rect x="681.90" y="126.54" width="1.000" height="85.05"/><rect x="682.87" y="105.70" width="1.000" height="105.89"/><rect x="683.84" y="85.37" width="1.000" height="126.22"/><rect x="684.81" y="92.16" width="1.000" height="119.42"/><rect x="685.78" y="109.25" width="1.000" height="102.33"/><rect x="686.75" y="119.75" width="1.000" height="91.84"/><rect x="687.72" y="128.01" width="1.000" height="83.58"/><rect x="688.69" y="134.64" width="1.000" height="76.95"/><rect x="689.66" y="140.36" width="1.000" height="71.22"/><rect x="690.63" y="145.55" width="1.000" height="66.03"/><rect x="691.61" y="150.54" width="1.000" height="61.05"/><rect x="692.58" y="155.30" width="1.000" height="56.29"/><rect x="693.55" y="159.63" width="1.000" height="51.96"/><rect x="694.52" y="163.32" width="1.000" height="48.26"/><rect x="695.49" y="166.48" width="1.000" height="45.11"/><rect x="696.46" y="169.35" width="1.000" height="42.24"/><rect x="697.43" y="171.96" width="1.000" height="39.63"/><rect x="698.40" y="174.32" width="1.000" height="37.26"/><rect x="699.37" y="176.48" width="1.000" height="35.10"/><rect x="700.34" y="178.43" width="1.000" height="33.15"/><rect x="701.31" y="180.15" width="1.000" height="31.43"/><rect x="702.28" y="181.72" width="1.000" height="29.87"/><rect x="703.25" y="183.21" width="1.000" height="28.37"/><rect x="704.23" y="184.72" width="1.000" height="26.86"/><rect x="705.20" y="186.34" width="1.000" height="25.25"/><rect x="706.17" y="188.04" width="1.000" height="23.54"/><rect x="707.14" y="189.79" width="1.000" height="21.79"/><rect x="708.11" y="191.56" width="1.000" height="20.02"/><rect x="709.08" y="193.33" width="1.000" height="18.26"/><rect x="710.05" y="195.06" width="1.000" height="16.53"/><rect x="711.02" y="196.73" width="1.000" height="14.86"/><rect x="711.99" y="198.31" width="1.000" height="13.28"/><rect x="712.96" y="199.82" width="1.000" height="11.77"/><rect x="713.93" y="201.28" width="1.000" height="10.31"/><rect x="714.90" y="202.70" width="1.000" height="8.89"/><rect x="715.87" y="204.09" width="1.000" height="7.50"/><rect x="716.85" y="205.44" width="1.000" height="6.14"/><rect x="717.82" y="206.78" width="1.000" height="4.81"/><rect x="718.79" y="208.09" width="1.000" height="3.49"/><rect x="719.76" y="209.39" width="1.000" height="2.19"/><rect x="720.73" y="210.68" width="1.000" height="0.90"/><rect x="721.70" y="211.59" width="1.000" height="0.39"/><rect x="722.67" y="211.59" width="1.000" height="1.66"/><rect x="723.64" y="211.59" width="1.000" height="2.91"/><rect x="724.61" y="211.59" width="1.000" height="4.15"/><rect x="725.58" y="211.59" width="1.000" height="5.38"/><rect x="726.55" y="211.59" width="1.000" height="6.58"/><rect x="727.52" y="211.59" width="1.000" height="7.77"/><rect x="728.49" y="211.59" width="1.000" height="8.94"/><rect x="729.46" y="211.59" width="1.000" height="10.09"/><rect x="730.44" y="211.59" width="1.000" height="11.23"/><rect x="731.41" y="211.59" width="1.000" height="12.35"/><rect x="732.38" y="211.59" width="1.000" height="13.46"/><rect x="733.35" y="211.59" width="1.000" height="14.56"/><rect x="734.32" y="211.59" width="1.000" height="15.64"/><rect x="735.29" y="211.59" width="1.000" height="16.71"/><rect x="736.26" y="211.59" width="1.000" height="17.77"/><rect x="737.23" y="211.59" width="1.000" height="18.82"/><rect x="738.20" y="211.59" width="1.000" height="19.86"/><rect x="739.17" y="211.59" width="1.000" height="20.89"/><rect x="740.14" y="211.59" width="1.000" height="21.92"/><rect x="741.11" y="211.59" width="1.000" height="22.95"/><rect x="742.08" y="211.59" width="1.000" height="24.00"/><rect x="743.06" y="211.59" width="1.000" height="25.05"/><rect x="744.03" y="211.59" width="1.000" height="26.10"/><rect x="745.00" y="211.59" width="1.000" height="27.13"/><rect x="745.97" y="211.59" width="1.000" height="28.14"/><rect x="746.94" y="211.59" width="1.000" height="29.11"/><rect x="747.91" y="211.59" width="1.000" height="30.05"/><rect x="748.88" y="211.59" width="1.000" height="30.93"/><rect x="749.85" y="211.59" width="1.000" height="31.76"/><rect x="750.82" y="211.59" width="1.000" height="32.52"/><rect x="751.79" y="211.59" width="1.000" height="33.29"/><rect x="752.76" y="211.59" width="1.000" height="34.04"/><rect x="753.73" y="211.59" width="1.000" height="34.76"/><rect x="754.70" y="211.59" width="1.000" height="35.42"/><rect x="755.68" y="211.59" width="1.000" height="36.00"/><rect x="756.65" y="211.59" width="1.000" height="36.47"/><rect x="757.62" y="211.59" width="1.000" height="36.81"/><rect x="758.59" y="211.59" width="1.000" height="37.09"/><rect x="759.56" y="211.59" width="1.000" height="37.32"/><rect x="760.53" y="211.59" width="1.000" height="37.46"/><rect x="761.50" y="211.59" width="1.000" height="37.43"/><rect x="762.47" y="211.59" width="1.000" height="37.09"/><rect x="763.44" y="211.59" width="1.000" height="36.50"/><rect x="764.41" y="211.59" width="1.000" height="35.76"/><rect x="765.38" y="211.59" width="1.000" height="34.65"/><rect x="766.35" y="211.59" width="1.000" height="32.88"/><rect x="767.32" y="211.59" width="1.000" height="30.59"/><rect x="768.29" y="211.59" width="1.000" height="27.88"/><rect x="769.27" y="211.59" width="1.000" height="24.06"/><rect x="770.24" y="211.59" width="1.000" height="19.18"/><rect x="771.21" y="211.59" width="1.000" height="13.04"/><rect x="772.18" y="211.59" width="1.000" height="4.98"/></g>
<path d="M592.59 209.55v2.04M594.53 211.59v1.31M596.47 211.59v12.78M598.41 211.59v15.85M600.36 211.59v17.80M602.30 211.59v19.15M604.24 211.59v20.32M606.18 211.59v21.37M608.12 211.59v22.25M610.06 211.59v22.95M612.00 211.59v23.49M613.95 211.59v23.99M615.89 211.59v24.36M617.83 211.59v24.47M619.77 211.59v24.39M621.71 211.59v24.19M623.65 211.59v23.93M625.59 211.59v23.61M627.54 211.59v23.12M629.48 211.59v22.48M631.42 211.59v21.75M633.36 211.59v20.90M635.30 211.59v19.87M637.24 211.59v18.70M639.19 211.59v17.43M641.13 211.59v16.08M643.07 211.59v14.71M645.01 211.59v13.34M646.95 211.59v11.97M648.89 211.59v10.56M650.83 211.59v9.09M652.78 211.59v7.56M654.72 211.59v5.98M656.66 211.59v4.34M658.60 211.59v2.62M660.54 211.59v0.78M662.48 210.42v1.16M664.42 208.47v3.12M666.37 206.27v5.32M668.31 203.57v8.02M670.25 199.97v11.62M672.19 195.25v16.34M674.13 189.28v22.30M676.07 180.81v30.78M678.02 169.74v41.84M679.96 153.91v57.67M681.90 126.54v85.05M683.84 85.37v126.22M685.78 109.25v102.33M687.72 128.01v83.58M689.66 140.36v71.22M691.61 150.54v61.05M693.55 159.63v51.96M695.49 166.48v45.11M697.43 171.96v39.63M699.37 176.48v35.10M701.31 180.15v31.43M703.25 183.21v28.37M705.20 186.34v25.25M707.14 189.79v21.79M709.08 193.33v18.26M711.02 196.73v14.86M712.96 199.82v11.77M714.90 202.70v8.89M716.85 205.44v6.14M718.79 208.09v3.49M720.73 210.68v0.90M722.67 211.59v1.66M724.61 211.59v4.15M726.55 211.59v6.58M728.49 211.59v8.94M730.44 211.59v11.23M732.38 211.59v13.46M734.32 211.59v15.64M736.26 211.59v17.77M738.20 211.59v19.86M740.14 211.59v21.92M742.08 211.59v24.00M744.03 211.59v26.10M745.97 211.59v28.14M747.91 211.59v30.05M749.85 211.59v31.76M751.79 211.59v33.29M753.73 211.59v34.76M755.68 211.59v36.00M757.62 211.59v36.81M759.56 211.59v37.32M761.50 211.59v37.43M763.44 211.59v36.50M765.38 211.59v34.65M767.32 211.59v30.59M769.27 211.59v24.06M771.21 211.59v13.04" stroke="#d2d2d2" stroke-width="0.62" fill="none"/>
<path d="M592.10 210.38v1.20M597.93 211.59v14.49M603.75 211.59v19.74M609.58 211.59v22.62M615.40 211.59v24.20M621.23 211.59v24.30M627.05 211.59v23.39M632.88 211.59v21.35M638.70 211.59v18.08M644.52 211.59v14.02M650.35 211.59v9.83M656.17 211.59v5.17M662.00 211.39v0.20M667.82 205.00v6.59M673.65 192.46v19.13M679.47 162.66v48.92M685.30 92.16v119.42M691.12 145.55v66.03M696.94 169.35v42.24M702.77 181.72v29.87M708.59 191.56v20.02M714.42 201.28v10.31M720.24 209.39v2.19M726.07 211.59v5.38M731.89 211.59v12.35M737.72 211.59v18.82M743.54 211.59v25.05M749.37 211.59v30.93M755.19 211.59v35.42M761.01 211.59v37.46M766.84 211.59v32.88M772.66 211.59v4.98" stroke="#7c7c7c" stroke-width="0.5" fill="none"/>
<line x1="587.25" y1="73.30" x2="781.40" y2="73.30" stroke="#111" stroke-width="1.0" />
<line x1="781.40" y1="73.30" x2="781.40" y2="266.90" stroke="#111" stroke-width="1.0" />
<line x1="587.25" y1="72.60" x2="587.25" y2="267.60" stroke="#000" stroke-width="1.75" />
<line x1="587.25" y1="266.90" x2="781.40" y2="266.90" stroke="#000" stroke-width="1.75" />
<line x1="587.25" y1="211.74" x2="781.40" y2="211.74" stroke="#000" stroke-width="1.5" />
<line x1="594.35" y1="183.93" x2="778.90" y2="183.93" stroke="#000" stroke-width="1.5" stroke-dasharray="5.4 2.65"/>
<line x1="594.35" y1="239.24" x2="778.90" y2="239.24" stroke="#000" stroke-width="1.5" stroke-dasharray="5.4 2.65"/>
<line x1="580.05" y1="73.30" x2="587.25" y2="73.30" stroke="#000" stroke-width="1.5" />
<text transform="translate(571.65,78.30) scale(0.793,1)" font-size="14.0" text-anchor="end" fill="#000" >1.0</text>
<line x1="580.05" y1="100.96" x2="587.25" y2="100.96" stroke="#000" stroke-width="1.5" />
<text transform="translate(571.65,105.96) scale(0.793,1)" font-size="14.0" text-anchor="end" fill="#000" >0.8</text>
<line x1="580.05" y1="128.61" x2="587.25" y2="128.61" stroke="#000" stroke-width="1.5" />
<text transform="translate(571.65,133.61) scale(0.793,1)" font-size="14.0" text-anchor="end" fill="#000" >0.6</text>
<line x1="580.05" y1="156.27" x2="587.25" y2="156.27" stroke="#000" stroke-width="1.5" />
<text transform="translate(571.65,161.27) scale(0.793,1)" font-size="14.0" text-anchor="end" fill="#000" >0.4</text>
<line x1="580.05" y1="183.93" x2="587.25" y2="183.93" stroke="#000" stroke-width="1.5" />
<text transform="translate(571.65,188.93) scale(0.793,1)" font-size="14.0" text-anchor="end" fill="#000" >0.2</text>
<line x1="580.05" y1="211.59" x2="587.25" y2="211.59" stroke="#000" stroke-width="1.5" />
<text transform="translate(571.65,216.59) scale(0.793,1)" font-size="14.0" text-anchor="end" fill="#000" >0.0</text>
<line x1="580.05" y1="239.24" x2="587.25" y2="239.24" stroke="#000" stroke-width="1.5" />
<text transform="translate(571.65,244.24) scale(0.793,1)" font-size="14.0" text-anchor="end" fill="#000" >–0.2</text>
<line x1="580.05" y1="266.90" x2="587.25" y2="266.90" stroke="#000" stroke-width="1.5" />
<text transform="translate(571.65,271.90) scale(0.793,1)" font-size="14.0" text-anchor="end" fill="#000" >–0.4</text>
<line x1="587.25" y1="266.90" x2="587.25" y2="274.10" stroke="#000" stroke-width="1.5" />
<text transform="translate(586.85,291.80) scale(0.793,1)" font-size="14.0" text-anchor="middle" fill="#000" >–100</text>
<line x1="635.79" y1="266.90" x2="635.79" y2="274.10" stroke="#000" stroke-width="1.5" />
<text transform="translate(635.39,291.80) scale(0.793,1)" font-size="14.0" text-anchor="middle" fill="#000" >–50</text>
<line x1="684.33" y1="266.90" x2="684.33" y2="274.10" stroke="#000" stroke-width="1.5" />
<text transform="translate(683.93,291.80) scale(0.793,1)" font-size="14.0" text-anchor="middle" fill="#000" >0</text>
<line x1="732.86" y1="266.90" x2="732.86" y2="274.10" stroke="#000" stroke-width="1.5" />
<text transform="translate(732.46,291.80) scale(0.793,1)" font-size="14.0" text-anchor="middle" fill="#000" >50</text>
<line x1="781.40" y1="266.90" x2="781.40" y2="274.10" stroke="#000" stroke-width="1.5" />
<text transform="translate(781.00,291.80) scale(0.793,1)" font-size="14.0" text-anchor="middle" fill="#000" >100</text>
<text transform="translate(683.93,307.90) scale(0.89,1)" font-size="15.2" text-anchor="middle" fill="#000" >Lag</text>
<text transform="translate(585.45,29.70) scale(0.847,1)" font-size="15.5" text-anchor="start" fill="#000" >Period:</text>
<text transform="translate(585.25,49.70) scale(0.855,1)" font-size="17.5" text-anchor="start" fill="#000" >Křtiny, 20.04.2023</text>
<rect x="749.60" y="21.40" width="97.2" height="32.6" rx="0.3" fill="#fff" stroke="#5e5e5e" stroke-width="0.9"/>
<text transform="translate(798.60,41.70) scale(0.84,1)" font-size="15.5" text-anchor="middle" fill="#000" ><tspan font-style="italic">r</tspan>: +; lag: +</text>
<text transform="translate(878.55,14.10) scale(0.847,1)" font-size="15.5" text-anchor="start" fill="#000" >Position:</text>
<text transform="translate(878.55,32.50) scale(0.847,1)" font-size="15.5" text-anchor="start" fill="#000" >ground water level L1:</text>
<text transform="translate(878.55,50.30) scale(0.847,1)" font-size="15.5" text-anchor="start" fill="#000" ><tspan font-style="italic">r</tspan>: 0.93; lag: 1</text>
<line x1="845.86" y1="73.30" x2="1039.90" y2="73.30" stroke="#111" stroke-width="1.0" />
<line x1="845.86" y1="72.60" x2="845.86" y2="267.60" stroke="#000" stroke-width="1.75" />
<line x1="845.86" y1="266.90" x2="1039.90" y2="266.90" stroke="#000" stroke-width="1.75" />
<line x1="1039.90" y1="72.60" x2="1039.90" y2="267.60" stroke="#000" stroke-width="1.75" />
<line x1="838.66" y1="266.90" x2="845.86" y2="266.90" stroke="#000" stroke-width="1.5" />
<text transform="translate(830.26,272.30) scale(0.793,1)" font-size="14.0" text-anchor="end" fill="#000" >0</text>
<line x1="838.66" y1="242.70" x2="845.86" y2="242.70" stroke="#000" stroke-width="1.5" />
<text transform="translate(830.26,248.10) scale(0.793,1)" font-size="14.0" text-anchor="end" fill="#000" >200</text>
<line x1="838.66" y1="218.50" x2="845.86" y2="218.50" stroke="#000" stroke-width="1.5" />
<text transform="translate(830.26,223.90) scale(0.793,1)" font-size="14.0" text-anchor="end" fill="#000" >400</text>
<line x1="838.66" y1="194.30" x2="845.86" y2="194.30" stroke="#000" stroke-width="1.5" />
<text transform="translate(830.26,199.70) scale(0.793,1)" font-size="14.0" text-anchor="end" fill="#000" >600</text>
<line x1="838.66" y1="170.10" x2="845.86" y2="170.10" stroke="#000" stroke-width="1.5" />
<text transform="translate(830.26,175.50) scale(0.793,1)" font-size="14.0" text-anchor="end" fill="#000" >800</text>
<line x1="838.66" y1="145.90" x2="845.86" y2="145.90" stroke="#000" stroke-width="1.5" />
<text transform="translate(830.26,151.30) scale(0.793,1)" font-size="14.0" text-anchor="end" fill="#000" >1000</text>
<line x1="838.66" y1="121.70" x2="845.86" y2="121.70" stroke="#000" stroke-width="1.5" />
<text transform="translate(830.26,127.10) scale(0.793,1)" font-size="14.0" text-anchor="end" fill="#000" >1200</text>
<line x1="838.66" y1="97.50" x2="845.86" y2="97.50" stroke="#000" stroke-width="1.5" />
<text transform="translate(830.26,102.90) scale(0.793,1)" font-size="14.0" text-anchor="end" fill="#000" >1400</text>
<line x1="838.66" y1="73.30" x2="845.86" y2="73.30" stroke="#000" stroke-width="1.5" />
<text transform="translate(830.26,78.70) scale(0.793,1)" font-size="14.0" text-anchor="end" fill="#000" >1600</text>
<line x1="1039.90" y1="266.90" x2="1047.10" y2="266.90" stroke="#000" stroke-width="1.5" />
<text transform="translate(1054.90,272.30) scale(0.793,1)" font-size="14.0" text-anchor="start" fill="#000" >300</text>
<line x1="1039.90" y1="239.24" x2="1047.10" y2="239.24" stroke="#000" stroke-width="1.5" />
<text transform="translate(1054.90,244.64) scale(0.793,1)" font-size="14.0" text-anchor="start" fill="#000" >500</text>
<line x1="1039.90" y1="211.59" x2="1047.10" y2="211.59" stroke="#000" stroke-width="1.5" />
<text transform="translate(1054.90,216.99) scale(0.793,1)" font-size="14.0" text-anchor="start" fill="#000" >700</text>
<line x1="1039.90" y1="183.93" x2="1047.10" y2="183.93" stroke="#000" stroke-width="1.5" />
<text transform="translate(1054.90,189.33) scale(0.793,1)" font-size="14.0" text-anchor="start" fill="#000" >900</text>
<line x1="1039.90" y1="156.27" x2="1047.10" y2="156.27" stroke="#000" stroke-width="1.5" />
<text transform="translate(1054.90,161.67) scale(0.793,1)" font-size="14.0" text-anchor="start" fill="#000" >1100</text>
<line x1="1039.90" y1="128.61" x2="1047.10" y2="128.61" stroke="#000" stroke-width="1.5" />
<text transform="translate(1054.90,134.01) scale(0.793,1)" font-size="14.0" text-anchor="start" fill="#000" >1300</text>
<line x1="1039.90" y1="100.96" x2="1047.10" y2="100.96" stroke="#000" stroke-width="1.5" />
<text transform="translate(1054.90,106.36) scale(0.793,1)" font-size="14.0" text-anchor="start" fill="#000" >1500</text>
<line x1="1039.90" y1="73.30" x2="1047.10" y2="73.30" stroke="#000" stroke-width="1.5" />
<text transform="translate(1054.90,78.70) scale(0.793,1)" font-size="14.0" text-anchor="start" fill="#000" >1700</text>
<line x1="845.86" y1="266.90" x2="845.86" y2="274.10" stroke="#000" stroke-width="1.5" />
<text transform="translate(850.46,281.90) rotate(-90) scale(0.793,1)" font-size="14.0" text-anchor="end" fill="#000" >19.04.2023</text>
<line x1="884.67" y1="266.90" x2="884.67" y2="274.10" stroke="#000" stroke-width="1.5" />
<text transform="translate(889.27,281.90) rotate(-90) scale(0.793,1)" font-size="14.0" text-anchor="end" fill="#000" >20.04.2023</text>
<line x1="923.48" y1="266.90" x2="923.48" y2="274.10" stroke="#000" stroke-width="1.5" />
<text transform="translate(928.08,281.90) rotate(-90) scale(0.793,1)" font-size="14.0" text-anchor="end" fill="#000" >21.04.2023</text>
<line x1="962.28" y1="266.90" x2="962.28" y2="274.10" stroke="#000" stroke-width="1.5" />
<text transform="translate(966.88,281.90) rotate(-90) scale(0.793,1)" font-size="14.0" text-anchor="end" fill="#000" >22.04.2023</text>
<line x1="1001.09" y1="266.90" x2="1001.09" y2="274.10" stroke="#000" stroke-width="1.5" />
<text transform="translate(1005.69,281.90) rotate(-90) scale(0.793,1)" font-size="14.0" text-anchor="end" fill="#000" >23.04.2023</text>
<line x1="1039.90" y1="266.90" x2="1039.90" y2="274.10" stroke="#000" stroke-width="1.5" />
<text transform="translate(1044.50,281.90) rotate(-90) scale(0.793,1)" font-size="14.0" text-anchor="end" fill="#000" >24.04.2023</text>
<text transform="translate(942.28,353.20) scale(0.87,1)" font-size="15.2" text-anchor="middle" fill="#000" >Date</text>
<text transform="translate(799.16,168.90) rotate(-90) scale(0.885,1)" font-size="15.3" text-anchor="middle" fill="#000" >Water level IN, mm</text>
<text transform="translate(1094.20,169.60) rotate(-90) scale(0.885,1)" font-size="15.3" text-anchor="middle" fill="#000" >Water level L1, mm</text>
<polyline points="870.30,266.00 870.30,257.00 871.00,240.00 872.00,190.00 873.00,140.00 874.00,104.10 874.00,104.10 874.69,108.87 875.38,114.03 876.07,119.75 876.75,126.01 877.44,132.52 878.13,138.96 878.82,145.02 879.51,150.99 880.20,156.98 880.88,162.83 881.57,168.37 882.26,173.45 882.95,177.90 883.64,181.89 884.33,185.65 885.02,189.20 885.70,192.55 886.39,195.71 887.08,198.70 887.77,201.53 888.46,204.23 889.15,206.80 889.83,209.26 890.52,211.62 891.21,213.87 891.90,216.02 892.59,218.08 893.28,220.05 893.96,221.92 894.65,223.71 895.34,225.42 896.03,227.05 896.72,228.62 897.41,230.14 898.10,231.59 898.78,232.98 899.47,234.32 900.16,235.59 900.85,236.81 901.54,237.97 902.23,239.09 902.91,240.18 903.60,241.25 904.29,242.29 904.98,243.28 905.67,244.21 906.36,245.07 907.05,245.86 907.73,246.56 908.42,247.17 909.11,247.74 909.80,248.28 910.49,248.79 911.18,249.26 911.86,249.70 912.55,250.10 913.24,250.47 913.93,250.80 914.62,251.09 915.31,251.36 915.99,251.62 916.68,251.86 917.37,252.09 918.06,252.30 918.75,252.51 919.44,252.71 920.13,252.89 920.81,253.07 921.50,253.24 922.19,253.40 922.88,253.56 923.57,253.71 924.26,253.86 924.94,254.01 925.63,254.15 926.32,254.29 927.01,254.43 927.70,254.56 928.39,254.69 929.08,254.82 929.76,254.95 930.45,255.07 931.14,255.20 931.83,255.32 932.52,255.43 933.21,255.55 933.89,255.66 934.58,255.77 935.27,255.88 935.96,255.99 936.65,256.10 937.34,256.20 938.03,256.30 938.71,256.41 939.40,256.51 940.09,256.61 940.78,256.70 941.47,256.80 942.16,256.90 942.84,256.99 943.53,257.09 944.22,257.18 944.91,257.27 945.60,257.37 946.29,257.46 946.97,257.55 947.66,257.64 948.35,257.73 949.04,257.82 949.73,257.91 950.42,258.01 951.11,258.10 951.79,258.19 952.48,258.28 953.17,258.37 953.86,258.47 954.55,258.56 955.24,258.65 955.92,258.75 956.61,258.84 957.30,258.94 957.99,259.04 958.68,259.13 959.37,259.23 960.06,259.33 960.74,259.44 961.43,259.54 962.12,259.64 962.81,259.74 963.50,259.85 964.19,259.95 964.87,260.05 965.56,260.15 966.25,260.25 966.94,260.36 967.63,260.46 968.32,260.56 969.01,260.66 969.69,260.77 970.38,260.87 971.07,260.97 971.76,261.07 972.45,261.17 973.14,261.28 973.82,261.38 974.51,261.48 975.20,261.58 975.89,261.68 976.58,261.78 977.27,261.88 977.95,261.99 978.64,262.09 979.33,262.19 980.02,262.29 980.71,262.39 981.40,262.49 982.09,262.59 982.77,262.69 983.46,262.79 984.15,262.89 984.84,262.99 985.53,263.09 986.22,263.19 986.90,263.29 987.59,263.39 988.28,263.49 988.97,263.58 989.66,263.68 990.35,263.78 991.04,263.88 991.72,263.98 992.41,264.08 993.10,264.17 993.79,264.27 994.48,264.37 995.17,264.46 995.85,264.56 996.54,264.66 997.23,264.75 997.92,264.85 998.61,264.94 999.30,265.04 999.98,265.13 1000.67,265.23 1001.36,265.32 1002.05,265.41 1002.74,265.51 1003.43,265.60 1004.12,265.69 1004.80,265.78 1005.49,265.87 1006.18,265.97 1006.87,266.06 1007.56,266.15 1008.25,266.24 1008.93,266.33 1009.62,266.42 1010.31,266.51 1011.00,266.60" fill="none" stroke="#969696" stroke-width="0.9" stroke-linejoin="round" />
<polyline points="869.70,255.20 871.60,255.20 871.60,255.20 871.87,250.38 872.14,245.07 872.41,239.31 872.67,233.14 872.94,226.60 873.21,219.72 873.48,211.91 873.75,202.98 874.02,193.48 874.28,183.97 874.55,174.98 874.82,167.05 875.09,160.27 875.36,153.83 875.63,148.08 875.89,143.43 876.16,140.07 876.43,137.38 876.70,135.60 876.70,135.60 877.45,139.12 878.19,144.35 878.94,149.79 879.69,154.57 880.44,159.01 881.18,163.01 881.93,166.47 882.68,169.64 883.42,172.54 884.17,175.12 884.92,177.37 885.66,179.33 886.41,181.13 887.16,182.78 887.91,184.30 888.65,185.70 889.40,187.01 890.15,188.23 890.89,189.40 891.64,190.50 892.39,191.55 893.13,192.55 893.88,193.51 894.63,194.42 895.38,195.30 896.12,196.14 896.87,196.94 897.62,197.72 898.36,198.47 899.11,199.19 899.86,199.90 900.61,200.58 901.35,201.23 902.10,201.87 902.85,202.48 903.59,203.06 904.34,203.63 905.09,204.17 905.83,204.69 906.58,205.19 907.33,205.67 908.08,206.13 908.82,206.58 909.57,207.01 910.32,207.43 911.06,207.83 911.81,208.23 912.56,208.61 913.30,208.98 914.05,209.34 914.80,209.69 915.55,210.03 916.29,210.36 917.04,210.69 917.79,211.00 918.53,211.32 919.28,211.62 920.03,211.91 920.77,212.20 921.52,212.49 922.27,212.77 923.02,213.04 923.76,213.30 924.51,213.57 925.26,213.82 926.00,214.07 926.75,214.32 927.50,214.56 928.25,214.80 928.99,215.04 929.74,215.27 930.49,215.50 931.23,215.72 931.98,215.94 932.73,216.16 933.47,216.38 934.22,216.59 934.97,216.80 935.72,217.01 936.46,217.22 937.21,217.43 937.96,217.63 938.70,217.84 939.45,218.04 940.20,218.25 940.94,218.45 941.69,218.65 942.44,218.86 943.19,219.06 943.93,219.26 944.68,219.47 945.43,219.68 946.17,219.88 946.92,220.09 947.67,220.31 948.42,220.52 949.16,220.73 949.91,220.95 950.66,221.16 951.40,221.38 952.15,221.59 952.90,221.81 953.64,222.02 954.39,222.24 955.14,222.46 955.89,222.67 956.63,222.89 957.38,223.10 958.13,223.32 958.87,223.53 959.62,223.74 960.37,223.95 961.11,224.16 961.86,224.37 962.61,224.58 963.36,224.79 964.10,224.99 964.85,225.20 965.60,225.40 966.34,225.60 967.09,225.80 967.84,226.00 968.58,226.19 969.33,226.39 970.08,226.58 970.83,226.77 971.57,226.96 972.32,227.14 973.07,227.33 973.81,227.52 974.56,227.70 975.31,227.89 976.06,228.07 976.80,228.25 977.55,228.43 978.30,228.61 979.04,228.79 979.79,228.97 980.54,229.15 981.28,229.32 982.03,229.50 982.78,229.67 983.53,229.84 984.27,230.01 985.02,230.19 985.77,230.35 986.51,230.52 987.26,230.69 988.01,230.86 988.75,231.03 989.50,231.19 990.25,231.35 991.00,231.52 991.74,231.68 992.49,231.84 993.24,232.01 993.98,232.17 994.73,232.33 995.48,232.49 996.23,232.65 996.97,232.81 997.72,232.96 998.47,233.12 999.21,233.28 999.96,233.43 1000.71,233.59 1001.45,233.74 1002.20,233.89 1002.95,234.05 1003.70,234.20 1004.44,234.35 1005.19,234.50 1005.94,234.65 1006.68,234.80 1007.43,234.94 1008.18,235.09 1008.92,235.23 1009.67,235.38 1010.42,235.52 1011.17,235.67 1011.91,235.81 1012.66,235.95 1013.41,236.09 1014.15,236.23 1014.90,236.36 1015.65,236.50 1016.39,236.64 1017.14,236.77 1017.89,236.91 1018.64,237.04 1019.38,237.17 1020.13,237.31 1020.88,237.44 1021.62,237.57 1022.37,237.70 1023.12,237.83 1023.87,237.96 1024.61,238.09 1025.36,238.21 1026.11,238.34 1026.85,238.47 1027.60,238.59 1028.35,238.72 1029.09,238.84 1029.84,238.96 1030.59,239.09 1031.34,239.21 1032.08,239.33 1032.83,239.45 1033.58,239.57 1034.32,239.69 1035.07,239.80 1035.82,239.92 1036.56,240.03 1037.31,240.15 1038.06,240.26 1038.81,240.38 1039.55,240.49 1040.30,240.60" fill="none" stroke="#000" stroke-width="1.7" stroke-linejoin="round" />
<line x1="957.16" y1="83.80" x2="995.66" y2="83.80" stroke="#969696" stroke-width="0.9" />
<text transform="translate(999.66,88.30) scale(0.85,1)" font-size="13" text-anchor="start" fill="#000" >IN GW</text>
<line x1="957.16" y1="99.80" x2="995.66" y2="99.80" stroke="#000" stroke-width="1.5" />
<text transform="translate(999.66,104.30) scale(0.85,1)" font-size="13" text-anchor="start" fill="#000" >L1 GW</text>
<rect x="684.2" y="252.2" width="0.9" height="0.9" fill="#555"/>
<g fill="#9b9b9b"><rect x="43.40" y="523.22" width="0.996" height="2.51"/><rect x="44.37" y="518.52" width="0.996" height="7.21"/><rect x="45.34" y="514.42" width="0.996" height="11.31"/><rect x="46.31" y="511.12" width="0.996" height="14.61"/><rect x="47.27" y="508.74" width="0.996" height="17.00"/><rect x="48.24" y="506.61" width="0.996" height="19.12"/><rect x="49.21" y="504.77" width="0.996" height="20.96"/><rect x="50.18" y="503.49" width="0.996" height="22.25"/><rect x="51.14" y="503.00" width="0.996" height="22.73"/><rect x="52.11" y="503.14" width="0.996" height="22.59"/><rect x="53.08" y="503.50" width="0.996" height="22.24"/><rect x="54.04" y="503.97" width="0.996" height="21.76"/><rect x="55.01" y="504.80" width="0.996" height="20.93"/><rect x="55.98" y="506.08" width="0.996" height="19.66"/><rect x="56.95" y="507.48" width="0.996" height="18.26"/><rect x="57.91" y="508.77" width="0.996" height="16.96"/><rect x="58.88" y="510.12" width="0.996" height="15.62"/><rect x="59.85" y="511.51" width="0.996" height="14.22"/><rect x="60.81" y="512.94" width="0.996" height="12.80"/><rect x="61.78" y="514.36" width="0.996" height="11.38"/><rect x="62.75" y="515.75" width="0.996" height="9.99"/><rect x="63.72" y="517.08" width="0.996" height="8.66"/><rect x="64.68" y="518.32" width="0.996" height="7.42"/><rect x="65.65" y="519.50" width="0.996" height="6.23"/><rect x="66.62" y="520.66" width="0.996" height="5.07"/><rect x="67.59" y="521.79" width="0.996" height="3.95"/><rect x="68.55" y="522.87" width="0.996" height="2.87"/><rect x="69.52" y="523.89" width="0.996" height="1.84"/><rect x="70.49" y="524.85" width="0.996" height="0.88"/><rect x="72.42" y="525.73" width="0.996" height="0.82"/><rect x="73.39" y="525.73" width="0.996" height="1.60"/><rect x="74.36" y="525.73" width="0.996" height="2.35"/><rect x="75.32" y="525.73" width="0.996" height="3.05"/><rect x="76.29" y="525.73" width="0.996" height="3.70"/><rect x="77.26" y="525.73" width="0.996" height="4.30"/><rect x="78.23" y="525.73" width="0.996" height="4.84"/><rect x="79.19" y="525.73" width="0.996" height="5.34"/><rect x="80.16" y="525.73" width="0.996" height="5.82"/><rect x="81.13" y="525.73" width="0.996" height="6.28"/><rect x="82.09" y="525.73" width="0.996" height="6.71"/><rect x="83.06" y="525.73" width="0.996" height="7.12"/><rect x="84.03" y="525.73" width="0.996" height="7.49"/><rect x="85.00" y="525.73" width="0.996" height="7.83"/><rect x="85.96" y="525.73" width="0.996" height="8.13"/><rect x="86.93" y="525.73" width="0.996" height="8.38"/><rect x="87.90" y="525.73" width="0.996" height="8.60"/><rect x="88.87" y="525.73" width="0.996" height="8.80"/><rect x="89.83" y="525.73" width="0.996" height="8.97"/><rect x="90.80" y="525.73" width="0.996" height="9.13"/><rect x="91.77" y="525.73" width="0.996" height="9.27"/><rect x="92.73" y="525.73" width="0.996" height="9.41"/><rect x="93.70" y="525.73" width="0.996" height="9.55"/><rect x="94.67" y="525.73" width="0.996" height="9.69"/><rect x="95.64" y="525.73" width="0.996" height="9.83"/><rect x="96.60" y="525.73" width="0.996" height="9.99"/><rect x="97.57" y="525.73" width="0.996" height="10.16"/><rect x="98.54" y="525.73" width="0.996" height="10.33"/><rect x="99.50" y="525.73" width="0.996" height="10.49"/><rect x="100.47" y="525.73" width="0.996" height="10.64"/><rect x="101.44" y="525.73" width="0.996" height="10.80"/><rect x="102.41" y="525.73" width="0.996" height="10.98"/><rect x="103.37" y="525.73" width="0.996" height="11.17"/><rect x="104.34" y="525.73" width="0.996" height="11.39"/><rect x="105.31" y="525.73" width="0.996" height="11.64"/><rect x="106.28" y="525.73" width="0.996" height="11.93"/><rect x="107.24" y="525.73" width="0.996" height="12.29"/><rect x="108.21" y="525.73" width="0.996" height="12.75"/><rect x="109.18" y="525.73" width="0.996" height="13.32"/><rect x="110.14" y="525.73" width="0.996" height="14.00"/><rect x="111.11" y="525.73" width="0.996" height="14.79"/><rect x="112.08" y="525.73" width="0.996" height="15.71"/><rect x="113.05" y="525.73" width="0.996" height="16.75"/><rect x="114.01" y="525.73" width="0.996" height="18.10"/><rect x="114.98" y="525.73" width="0.996" height="20.17"/><rect x="115.95" y="525.73" width="0.996" height="22.82"/><rect x="116.92" y="525.73" width="0.996" height="25.88"/><rect x="117.88" y="525.73" width="0.996" height="29.19"/><rect x="118.85" y="525.73" width="0.996" height="32.58"/><rect x="119.82" y="525.73" width="0.996" height="36.21"/><rect x="120.78" y="525.73" width="0.996" height="40.37"/><rect x="121.75" y="525.73" width="0.996" height="45.17"/><rect x="122.72" y="525.73" width="0.996" height="51.11"/><rect x="123.69" y="525.73" width="0.996" height="58.43"/><rect x="124.65" y="525.73" width="0.996" height="65.93"/><rect x="125.62" y="525.73" width="0.996" height="73.81"/><rect x="126.59" y="525.73" width="0.996" height="82.08"/><rect x="127.56" y="525.73" width="0.996" height="90.78"/><rect x="128.52" y="525.73" width="0.996" height="100.35"/><rect x="129.49" y="525.73" width="0.996" height="111.23"/><rect x="130.46" y="525.73" width="0.996" height="123.32"/><rect x="131.42" y="525.73" width="0.996" height="106.40"/><rect x="132.39" y="525.73" width="0.996" height="80.60"/><rect x="133.36" y="525.73" width="0.996" height="54.81"/><rect x="134.33" y="525.73" width="0.996" height="27.41"/><rect x="136.26" y="523.62" width="0.996" height="2.12"/><rect x="137.23" y="512.84" width="0.996" height="12.89"/><rect x="138.19" y="503.29" width="0.996" height="22.44"/><rect x="139.16" y="497.69" width="0.996" height="28.04"/><rect x="140.13" y="493.54" width="0.996" height="32.19"/><rect x="141.10" y="490.03" width="0.996" height="35.70"/><rect x="142.06" y="487.15" width="0.996" height="38.58"/><rect x="143.03" y="485.10" width="0.996" height="40.63"/><rect x="144.00" y="483.48" width="0.996" height="42.26"/><rect x="144.97" y="482.06" width="0.996" height="43.67"/><rect x="145.93" y="481.08" width="0.996" height="44.65"/><rect x="146.90" y="480.76" width="0.996" height="44.98"/><rect x="147.87" y="480.91" width="0.996" height="44.83"/><rect x="148.83" y="481.26" width="0.996" height="44.48"/><rect x="149.80" y="481.73" width="0.996" height="44.00"/><rect x="150.77" y="482.26" width="0.996" height="43.47"/><rect x="151.74" y="483.01" width="0.996" height="42.73"/><rect x="152.70" y="484.03" width="0.996" height="41.70"/><rect x="153.67" y="485.23" width="0.996" height="40.50"/><rect x="154.64" y="486.50" width="0.996" height="39.23"/><rect x="155.61" y="487.73" width="0.996" height="38.00"/><rect x="156.57" y="488.92" width="0.996" height="36.81"/><rect x="157.54" y="490.15" width="0.996" height="35.58"/><rect x="158.51" y="491.42" width="0.996" height="34.31"/><rect x="159.47" y="492.71" width="0.996" height="33.02"/><rect x="160.44" y="494.02" width="0.996" height="31.72"/><rect x="161.41" y="495.32" width="0.996" height="30.41"/><rect x="162.38" y="496.61" width="0.996" height="29.12"/><rect x="163.34" y="497.88" width="0.996" height="27.85"/><rect x="164.31" y="499.13" width="0.996" height="26.61"/><rect x="165.28" y="500.37" width="0.996" height="25.36"/><rect x="166.25" y="501.61" width="0.996" height="24.13"/><rect x="167.21" y="502.84" width="0.996" height="22.90"/><rect x="168.18" y="504.06" width="0.996" height="21.68"/><rect x="169.15" y="505.26" width="0.996" height="20.47"/><rect x="170.11" y="506.47" width="0.996" height="19.27"/><rect x="171.08" y="507.68" width="0.996" height="18.05"/><rect x="172.05" y="508.92" width="0.996" height="16.82"/><rect x="173.02" y="510.16" width="0.996" height="15.58"/><rect x="173.98" y="511.39" width="0.996" height="14.34"/><rect x="174.95" y="512.62" width="0.996" height="13.12"/><rect x="175.92" y="513.83" width="0.996" height="11.91"/><rect x="176.88" y="515.01" width="0.996" height="10.72"/><rect x="177.85" y="516.16" width="0.996" height="9.57"/><rect x="178.82" y="517.27" width="0.996" height="8.46"/><rect x="179.79" y="518.33" width="0.996" height="7.40"/><rect x="180.75" y="519.33" width="0.996" height="6.40"/><rect x="181.72" y="520.27" width="0.996" height="5.46"/><rect x="182.69" y="521.15" width="0.996" height="4.58"/><rect x="183.66" y="521.98" width="0.996" height="3.75"/><rect x="184.62" y="522.77" width="0.996" height="2.96"/><rect x="185.59" y="523.53" width="0.996" height="2.20"/><rect x="186.56" y="524.27" width="0.996" height="1.46"/><rect x="187.52" y="525.00" width="0.996" height="0.73"/><rect x="189.46" y="525.73" width="0.996" height="0.73"/><rect x="190.43" y="525.73" width="0.996" height="1.45"/><rect x="191.39" y="525.73" width="0.996" height="2.16"/><rect x="192.36" y="525.73" width="0.996" height="2.86"/><rect x="193.33" y="525.73" width="0.996" height="3.54"/><rect x="194.30" y="525.73" width="0.996" height="4.20"/><rect x="195.26" y="525.73" width="0.996" height="4.84"/><rect x="196.23" y="525.73" width="0.996" height="5.47"/><rect x="197.20" y="525.73" width="0.996" height="6.11"/><rect x="198.16" y="525.73" width="0.996" height="6.76"/><rect x="199.13" y="525.73" width="0.996" height="7.39"/><rect x="200.10" y="525.73" width="0.996" height="7.99"/><rect x="201.07" y="525.73" width="0.996" height="8.57"/><rect x="202.03" y="525.73" width="0.996" height="9.11"/><rect x="203.00" y="525.73" width="0.996" height="9.61"/><rect x="203.97" y="525.73" width="0.996" height="10.04"/><rect x="204.94" y="525.73" width="0.996" height="10.43"/><rect x="205.90" y="525.73" width="0.996" height="10.83"/><rect x="206.87" y="525.73" width="0.996" height="11.22"/><rect x="207.84" y="525.73" width="0.996" height="11.58"/><rect x="208.80" y="525.73" width="0.996" height="11.88"/><rect x="209.77" y="525.73" width="0.996" height="12.11"/><rect x="210.74" y="525.73" width="0.996" height="12.24"/><rect x="211.71" y="525.73" width="0.996" height="12.21"/><rect x="212.67" y="525.73" width="0.996" height="11.86"/><rect x="213.64" y="525.73" width="0.996" height="11.24"/><rect x="214.61" y="525.73" width="0.996" height="10.40"/><rect x="215.57" y="525.73" width="0.996" height="9.43"/><rect x="216.54" y="525.73" width="0.996" height="8.38"/><rect x="217.51" y="525.73" width="0.996" height="6.88"/><rect x="218.48" y="525.73" width="0.996" height="4.81"/><rect x="219.44" y="525.73" width="0.996" height="2.70"/><rect x="220.41" y="525.73" width="0.996" height="0.99"/></g>
<path d="M43.40 523.22v2.51M45.34 514.42v11.31M47.27 508.74v17.00M49.21 504.77v20.96M51.14 503.00v22.73M53.08 503.50v22.24M55.01 504.80v20.93M56.95 507.48v18.26M58.88 510.12v15.62M60.81 512.94v12.80M62.75 515.75v9.99M64.68 518.32v7.42M66.62 520.66v5.07M68.55 522.87v2.87M70.49 524.85v0.88M72.42 525.73v0.82M74.36 525.73v2.35M76.29 525.73v3.70M78.23 525.73v4.84M80.16 525.73v5.82M82.09 525.73v6.71M84.03 525.73v7.49M85.96 525.73v8.13M87.90 525.73v8.60M89.83 525.73v8.97M91.77 525.73v9.27M93.70 525.73v9.55M95.64 525.73v9.83M97.57 525.73v10.16M99.50 525.73v10.49M101.44 525.73v10.80M103.37 525.73v11.17M105.31 525.73v11.64M107.24 525.73v12.29M109.18 525.73v13.32M111.11 525.73v14.79M113.05 525.73v16.75M114.98 525.73v20.17M116.92 525.73v25.88M118.85 525.73v32.58M120.78 525.73v40.37M122.72 525.73v51.11M124.65 525.73v65.93M126.59 525.73v82.08M128.52 525.73v100.35M130.46 525.73v123.32M132.39 525.73v80.60M134.33 525.73v27.41M136.26 523.62v2.12M138.19 503.29v22.44M140.13 493.54v32.19M142.06 487.15v38.58M144.00 483.48v42.26M145.93 481.08v44.65M147.87 480.91v44.83M149.80 481.73v44.00M151.74 483.01v42.73M153.67 485.23v40.50M155.61 487.73v38.00M157.54 490.15v35.58M159.47 492.71v33.02M161.41 495.32v30.41M163.34 497.88v27.85M165.28 500.37v25.36M167.21 502.84v22.90M169.15 505.26v20.47M171.08 507.68v18.05M173.02 510.16v15.58M174.95 512.62v13.12M176.88 515.01v10.72M178.82 517.27v8.46M180.75 519.33v6.40M182.69 521.15v4.58M184.62 522.77v2.96M186.56 524.27v1.46M190.43 525.73v1.45M192.36 525.73v2.86M194.30 525.73v4.20M196.23 525.73v5.47M198.16 525.73v6.76M200.10 525.73v7.99M202.03 525.73v9.11M203.97 525.73v10.04M205.90 525.73v10.83M207.84 525.73v11.58M209.77 525.73v12.11M211.71 525.73v12.21M213.64 525.73v11.24M215.57 525.73v9.43M217.51 525.73v6.88M219.44 525.73v2.70" stroke="#d2d2d2" stroke-width="0.62" fill="none"/>
<path d="M46.79 511.12v14.61M52.59 503.14v22.59M58.40 508.77v16.96M64.20 517.08v8.66M70.00 523.89v1.84M75.81 525.73v3.05M81.61 525.73v6.28M87.41 525.73v8.38M93.22 525.73v9.41M99.02 525.73v10.33M104.82 525.73v11.39M110.63 525.73v14.00M116.43 525.73v22.82M122.24 525.73v45.17M128.04 525.73v90.78M133.84 525.73v54.81M139.65 497.69v28.04M145.45 482.06v43.67M151.25 482.26v43.47M157.06 488.92v36.81M162.86 496.61v29.12M168.66 504.06v21.68M174.47 511.39v14.34M180.27 518.33v7.40M186.07 523.53v2.20M191.88 525.73v2.16M197.68 525.73v6.11M203.48 525.73v9.61M209.29 525.73v11.88M215.09 525.73v10.40M220.89 525.73v0.99" stroke="#7c7c7c" stroke-width="0.5" fill="none"/>
<line x1="36.15" y1="461.25" x2="229.60" y2="461.25" stroke="#111" stroke-width="1.0" />
<line x1="229.60" y1="461.25" x2="229.60" y2="654.70" stroke="#111" stroke-width="1.0" />
<line x1="36.15" y1="460.55" x2="36.15" y2="655.40" stroke="#000" stroke-width="1.75" />
<line x1="36.15" y1="654.70" x2="229.60" y2="654.70" stroke="#000" stroke-width="1.75" />
<line x1="36.15" y1="525.88" x2="229.60" y2="525.88" stroke="#000" stroke-width="1.5" />
<line x1="43.25" y1="493.49" x2="227.10" y2="493.49" stroke="#000" stroke-width="1.5" stroke-dasharray="5.4 2.65"/>
<line x1="43.25" y1="557.98" x2="227.10" y2="557.98" stroke="#000" stroke-width="1.5" stroke-dasharray="5.4 2.65"/>
<line x1="28.95" y1="461.25" x2="36.15" y2="461.25" stroke="#000" stroke-width="1.5" />
<text transform="translate(20.55,466.25) scale(0.793,1)" font-size="14.0" text-anchor="end" fill="#000" >0.4</text>
<line x1="28.95" y1="493.49" x2="36.15" y2="493.49" stroke="#000" stroke-width="1.5" />
<text transform="translate(20.55,498.49) scale(0.793,1)" font-size="14.0" text-anchor="end" fill="#000" >0.2</text>
<line x1="28.95" y1="525.73" x2="36.15" y2="525.73" stroke="#000" stroke-width="1.5" />
<text transform="translate(20.55,530.73) scale(0.793,1)" font-size="14.0" text-anchor="end" fill="#000" >0.0</text>
<line x1="28.95" y1="557.98" x2="36.15" y2="557.98" stroke="#000" stroke-width="1.5" />
<text transform="translate(20.55,562.98) scale(0.793,1)" font-size="14.0" text-anchor="end" fill="#000" >–0.2</text>
<line x1="28.95" y1="590.22" x2="36.15" y2="590.22" stroke="#000" stroke-width="1.5" />
<text transform="translate(20.55,595.22) scale(0.793,1)" font-size="14.0" text-anchor="end" fill="#000" >–0.4</text>
<line x1="28.95" y1="622.46" x2="36.15" y2="622.46" stroke="#000" stroke-width="1.5" />
<text transform="translate(20.55,627.46) scale(0.793,1)" font-size="14.0" text-anchor="end" fill="#000" >–0.6</text>
<line x1="28.95" y1="654.70" x2="36.15" y2="654.70" stroke="#000" stroke-width="1.5" />
<text transform="translate(20.55,659.70) scale(0.793,1)" font-size="14.0" text-anchor="end" fill="#000" >–0.8</text>
<line x1="36.15" y1="654.70" x2="36.15" y2="661.90" stroke="#000" stroke-width="1.5" />
<text transform="translate(35.75,679.60) scale(0.793,1)" font-size="14.0" text-anchor="middle" fill="#000" >–100</text>
<line x1="84.51" y1="654.70" x2="84.51" y2="661.90" stroke="#000" stroke-width="1.5" />
<text transform="translate(84.11,679.60) scale(0.793,1)" font-size="14.0" text-anchor="middle" fill="#000" >–50</text>
<line x1="132.88" y1="654.70" x2="132.88" y2="661.90" stroke="#000" stroke-width="1.5" />
<text transform="translate(132.47,679.60) scale(0.793,1)" font-size="14.0" text-anchor="middle" fill="#000" >0</text>
<line x1="181.24" y1="654.70" x2="181.24" y2="661.90" stroke="#000" stroke-width="1.5" />
<text transform="translate(180.84,679.60) scale(0.793,1)" font-size="14.0" text-anchor="middle" fill="#000" >50</text>
<line x1="229.60" y1="654.70" x2="229.60" y2="661.90" stroke="#000" stroke-width="1.5" />
<text transform="translate(229.20,679.60) scale(0.793,1)" font-size="14.0" text-anchor="middle" fill="#000" >100</text>
<text transform="translate(132.47,695.70) scale(0.89,1)" font-size="15.2" text-anchor="middle" fill="#000" >Lag</text>
<text transform="translate(34.35,417.65) scale(0.847,1)" font-size="15.5" text-anchor="start" fill="#000" >Period:</text>
<text transform="translate(34.15,437.65) scale(0.855,1)" font-size="17.5" text-anchor="start" fill="#000" >Křtiny, 21.06.2023</text>
<rect x="195.20" y="409.35" width="97.2" height="32.6" rx="0.3" fill="#fff" stroke="#5e5e5e" stroke-width="0.9"/>
<text transform="translate(244.20,429.65) scale(0.84,1)" font-size="15.5" text-anchor="middle" fill="#000" ><tspan font-style="italic">r</tspan>: –; lag: –</text>
<text transform="translate(327.45,402.05) scale(0.847,1)" font-size="15.5" text-anchor="start" fill="#000" >Position:</text>
<text transform="translate(327.45,420.45) scale(0.847,1)" font-size="15.5" text-anchor="start" fill="#000" >ground water level L5:</text>
<text transform="translate(327.45,438.25) scale(0.847,1)" font-size="15.5" text-anchor="start" fill="#000" ><tspan font-style="italic">r</tspan>: –0.76; lag: –3</text>
<line x1="294.55" y1="461.25" x2="488.20" y2="461.25" stroke="#111" stroke-width="1.0" />
<line x1="294.55" y1="460.55" x2="294.55" y2="655.40" stroke="#000" stroke-width="1.75" />
<line x1="294.55" y1="654.70" x2="488.20" y2="654.70" stroke="#000" stroke-width="1.75" />
<line x1="488.20" y1="460.55" x2="488.20" y2="655.40" stroke="#000" stroke-width="1.75" />
<line x1="287.35" y1="654.70" x2="294.55" y2="654.70" stroke="#000" stroke-width="1.5" />
<text transform="translate(278.95,660.10) scale(0.793,1)" font-size="14.0" text-anchor="end" fill="#000" >0</text>
<line x1="287.35" y1="633.21" x2="294.55" y2="633.21" stroke="#000" stroke-width="1.5" />
<text transform="translate(278.95,638.61) scale(0.793,1)" font-size="14.0" text-anchor="end" fill="#000" >200</text>
<line x1="287.35" y1="611.71" x2="294.55" y2="611.71" stroke="#000" stroke-width="1.5" />
<text transform="translate(278.95,617.11) scale(0.793,1)" font-size="14.0" text-anchor="end" fill="#000" >400</text>
<line x1="287.35" y1="590.22" x2="294.55" y2="590.22" stroke="#000" stroke-width="1.5" />
<text transform="translate(278.95,595.62) scale(0.793,1)" font-size="14.0" text-anchor="end" fill="#000" >600</text>
<line x1="287.35" y1="568.72" x2="294.55" y2="568.72" stroke="#000" stroke-width="1.5" />
<text transform="translate(278.95,574.12) scale(0.793,1)" font-size="14.0" text-anchor="end" fill="#000" >800</text>
<line x1="287.35" y1="547.23" x2="294.55" y2="547.23" stroke="#000" stroke-width="1.5" />
<text transform="translate(278.95,552.63) scale(0.793,1)" font-size="14.0" text-anchor="end" fill="#000" >1000</text>
<line x1="287.35" y1="525.73" x2="294.55" y2="525.73" stroke="#000" stroke-width="1.5" />
<text transform="translate(278.95,531.13) scale(0.793,1)" font-size="14.0" text-anchor="end" fill="#000" >1200</text>
<line x1="287.35" y1="504.24" x2="294.55" y2="504.24" stroke="#000" stroke-width="1.5" />
<text transform="translate(278.95,509.64) scale(0.793,1)" font-size="14.0" text-anchor="end" fill="#000" >1400</text>
<line x1="287.35" y1="482.74" x2="294.55" y2="482.74" stroke="#000" stroke-width="1.5" />
<text transform="translate(278.95,488.14) scale(0.793,1)" font-size="14.0" text-anchor="end" fill="#000" >1600</text>
<line x1="287.35" y1="461.25" x2="294.55" y2="461.25" stroke="#000" stroke-width="1.5" />
<text transform="translate(278.95,466.65) scale(0.793,1)" font-size="14.0" text-anchor="end" fill="#000" >1800</text>
<line x1="488.20" y1="654.70" x2="495.40" y2="654.70" stroke="#000" stroke-width="1.5" />
<text transform="translate(503.20,660.10) scale(0.793,1)" font-size="14.0" text-anchor="start" fill="#000" >0</text>
<line x1="488.20" y1="633.21" x2="495.40" y2="633.21" stroke="#000" stroke-width="1.5" />
<text transform="translate(503.20,638.61) scale(0.793,1)" font-size="14.0" text-anchor="start" fill="#000" >200</text>
<line x1="488.20" y1="611.71" x2="495.40" y2="611.71" stroke="#000" stroke-width="1.5" />
<text transform="translate(503.20,617.11) scale(0.793,1)" font-size="14.0" text-anchor="start" fill="#000" >400</text>
<line x1="488.20" y1="590.22" x2="495.40" y2="590.22" stroke="#000" stroke-width="1.5" />
<text transform="translate(503.20,595.62) scale(0.793,1)" font-size="14.0" text-anchor="start" fill="#000" >600</text>
<line x1="488.20" y1="568.72" x2="495.40" y2="568.72" stroke="#000" stroke-width="1.5" />
<text transform="translate(503.20,574.12) scale(0.793,1)" font-size="14.0" text-anchor="start" fill="#000" >800</text>
<line x1="488.20" y1="547.23" x2="495.40" y2="547.23" stroke="#000" stroke-width="1.5" />
<text transform="translate(503.20,552.63) scale(0.793,1)" font-size="14.0" text-anchor="start" fill="#000" >1000</text>
<line x1="488.20" y1="525.73" x2="495.40" y2="525.73" stroke="#000" stroke-width="1.5" />
<text transform="translate(503.20,531.13) scale(0.793,1)" font-size="14.0" text-anchor="start" fill="#000" >1200</text>
<line x1="488.20" y1="504.24" x2="495.40" y2="504.24" stroke="#000" stroke-width="1.5" />
<text transform="translate(503.20,509.64) scale(0.793,1)" font-size="14.0" text-anchor="start" fill="#000" >1400</text>
<line x1="488.20" y1="482.74" x2="495.40" y2="482.74" stroke="#000" stroke-width="1.5" />
<text transform="translate(503.20,488.14) scale(0.793,1)" font-size="14.0" text-anchor="start" fill="#000" >1600</text>
<line x1="488.20" y1="461.25" x2="495.40" y2="461.25" stroke="#000" stroke-width="1.5" />
<text transform="translate(503.20,466.65) scale(0.793,1)" font-size="14.0" text-anchor="start" fill="#000" >1800</text>
<line x1="294.55" y1="654.70" x2="294.55" y2="661.90" stroke="#000" stroke-width="1.5" />
<text transform="translate(299.15,669.70) rotate(-90) scale(0.793,1)" font-size="14.0" text-anchor="end" fill="#000" >20.06.2024</text>
<line x1="326.82" y1="654.70" x2="326.82" y2="661.90" stroke="#000" stroke-width="1.5" />
<text transform="translate(331.43,669.70) rotate(-90) scale(0.793,1)" font-size="14.0" text-anchor="end" fill="#000" >21.06.2024</text>
<line x1="359.10" y1="654.70" x2="359.10" y2="661.90" stroke="#000" stroke-width="1.5" />
<text transform="translate(363.70,669.70) rotate(-90) scale(0.793,1)" font-size="14.0" text-anchor="end" fill="#000" >22.06.2024</text>
<line x1="391.38" y1="654.70" x2="391.38" y2="661.90" stroke="#000" stroke-width="1.5" />
<text transform="translate(395.98,669.70) rotate(-90) scale(0.793,1)" font-size="14.0" text-anchor="end" fill="#000" >23.06.2024</text>
<line x1="423.65" y1="654.70" x2="423.65" y2="661.90" stroke="#000" stroke-width="1.5" />
<text transform="translate(428.25,669.70) rotate(-90) scale(0.793,1)" font-size="14.0" text-anchor="end" fill="#000" >24.06.2024</text>
<line x1="455.92" y1="654.70" x2="455.92" y2="661.90" stroke="#000" stroke-width="1.5" />
<text transform="translate(460.52,669.70) rotate(-90) scale(0.793,1)" font-size="14.0" text-anchor="end" fill="#000" >25.06.2024</text>
<line x1="488.20" y1="654.70" x2="488.20" y2="661.90" stroke="#000" stroke-width="1.5" />
<text transform="translate(492.80,669.70) rotate(-90) scale(0.793,1)" font-size="14.0" text-anchor="end" fill="#000" >26.06.2024</text>
<text transform="translate(390.77,741.00) scale(0.87,1)" font-size="15.2" text-anchor="middle" fill="#000" >Date</text>
<text transform="translate(247.85,556.77) rotate(-90) scale(0.885,1)" font-size="15.3" text-anchor="middle" fill="#000" >Water level IN, mm</text>
<text transform="translate(542.70,557.48) rotate(-90) scale(0.885,1)" font-size="15.3" text-anchor="middle" fill="#000" >Water level L5, mm</text>
<polyline points="323.00,650.70 324.80,646.00 325.60,630.00 326.60,580.00 327.60,520.00 328.60,485.10 328.60,485.10 329.23,490.38 329.87,495.82 330.50,501.52 331.13,507.47 331.76,513.35 332.40,518.86 333.03,524.17 333.66,529.35 334.29,534.39 334.93,539.28 335.56,543.97 336.19,548.46 336.82,552.77 337.46,557.01 338.09,561.15 338.72,565.19 339.36,569.11 339.99,572.89 340.62,576.52 341.25,579.98 341.89,583.26 342.52,586.35 343.15,589.31 343.78,592.16 344.42,594.90 345.05,597.54 345.68,600.07 346.31,602.50 346.95,604.81 347.58,607.02 348.21,609.12 348.85,611.13 349.48,613.10 350.11,615.00 350.74,616.84 351.38,618.60 352.01,620.27 352.64,621.83 353.27,623.29 353.91,624.63 354.54,625.85 355.17,626.98 355.80,628.05 356.44,629.03 357.07,629.93 357.70,630.73 358.34,631.44 358.97,632.08 359.60,632.70 360.23,633.30 360.87,633.88 361.50,634.44 362.13,634.97 362.76,635.48 363.40,635.96 364.03,636.42 364.66,636.85 365.29,637.24 365.93,637.61 366.56,637.95 367.19,638.25 367.83,638.52 368.46,638.76 369.09,638.98 369.72,639.19 370.36,639.40 370.99,639.59 371.62,639.79 372.25,639.97 372.89,640.15 373.52,640.32 374.15,640.48 374.78,640.64 375.42,640.80 376.05,640.95 376.68,641.09 377.32,641.23 377.95,641.36 378.58,641.49 379.21,641.62 379.85,641.74 380.48,641.86 381.11,641.98 381.74,642.09 382.38,642.20 383.01,642.31 383.64,642.42 384.27,642.52 384.91,642.63 385.54,642.73 386.17,642.83 386.81,642.93 387.44,643.03 388.07,643.13 388.70,643.23 389.34,643.33 389.97,643.43 390.60,643.53 391.23,643.63 391.87,643.73 392.50,643.83 393.13,643.92 393.76,644.01 394.40,644.10 395.03,644.19 395.66,644.27 396.29,644.36 396.93,644.44 397.56,644.52 398.19,644.60 398.83,644.68 399.46,644.76 400.09,644.83 400.72,644.91 401.36,644.98 401.99,645.06 402.62,645.13 403.25,645.20 403.89,645.27 404.52,645.34 405.15,645.41 405.78,645.48 406.42,645.55 407.05,645.62 407.68,645.69 408.32,645.76 408.95,645.83 409.58,645.90 410.21,645.97 410.85,646.04 411.48,646.11 412.11,646.18 412.74,646.25 413.38,646.32 414.01,646.40 414.64,646.47 415.27,646.55 415.91,646.62 416.54,646.70 417.17,646.78 417.81,646.86 418.44,646.94 419.07,647.02 419.70,647.11 420.34,647.19 420.97,647.28 421.60,647.37 422.23,647.46 422.87,647.55 423.50,647.65 424.13,647.74 424.76,647.84 425.40,647.93 426.03,648.03 426.66,648.13 427.30,648.23 427.93,648.32 428.56,648.42 429.19,648.53 429.83,648.63 430.46,648.73 431.09,648.84 431.72,648.94 432.36,649.05 432.99,649.16 433.62,649.27 434.25,649.38 434.89,649.49 435.52,649.61 436.15,649.72 436.79,649.84 437.42,649.96 438.05,650.08 438.68,650.21 439.32,650.33 439.95,650.46 440.58,650.59 441.21,650.72 441.85,650.86 442.48,651.00 443.11,651.14 443.74,651.28 444.38,651.43 445.01,651.59 445.64,651.74 446.28,651.91 446.91,652.07 447.54,652.24 448.17,652.42 448.81,652.59 449.44,652.77 450.07,652.96 450.70,653.14 451.34,653.33 451.97,653.52 452.60,653.71 453.23,653.91 453.87,654.10 454.50,654.30" fill="none" stroke="#969696" stroke-width="0.9" stroke-linejoin="round" />
<polyline points="322.20,650.30 322.71,650.29 323.21,650.28 323.72,650.24 324.23,650.19 324.74,650.12 325.24,650.03 325.75,649.43 326.26,647.57 326.76,645.29 327.27,642.30 327.78,639.06 328.28,635.45 328.79,631.63 329.30,627.77 329.81,624.06 330.31,620.67 330.82,617.35 331.33,614.07 331.83,611.05 332.34,608.48 332.85,606.48 333.35,604.74 333.86,603.15 334.37,601.72 334.88,600.42 335.38,599.25 335.89,598.19 336.40,597.22 336.90,596.32 337.41,595.46 337.92,594.64 338.42,593.87 338.93,593.14 339.44,592.45 339.95,591.80 340.45,591.19 340.96,590.62 341.47,590.09 341.97,589.60 342.48,589.14 342.99,588.70 343.49,588.27 344.00,587.86 344.51,587.46 345.02,587.07 345.52,586.70 346.03,586.35 346.54,586.01 347.04,585.70 347.55,585.39 348.06,585.11 348.57,584.85 349.07,584.61 349.58,584.38 350.09,584.18 350.59,583.99 351.10,583.81 351.61,583.63 352.11,583.45 352.62,583.27 353.13,583.10 353.64,582.94 354.14,582.78 354.65,582.64 355.16,582.51 355.66,582.40 356.17,582.30 356.68,582.22 357.18,582.16 357.69,582.12 358.20,582.10 358.71,582.11 359.21,582.13 359.72,582.16 360.23,582.21 360.73,582.27 361.24,582.34 361.75,582.42 362.25,582.51 362.76,582.60 363.27,582.70 363.78,582.80 364.28,582.90 364.79,583.01 365.30,583.11 365.80,583.21 366.31,583.30 366.82,583.40 367.33,583.50 367.83,583.60 368.34,583.70 368.85,583.81 369.35,583.93 369.86,584.04 370.37,584.16 370.87,584.28 371.38,584.41 371.89,584.53 372.40,584.66 372.90,584.79 373.41,584.92 373.92,585.05 374.42,585.19 374.93,585.32 375.44,585.46 375.94,585.60 376.45,585.73 376.96,585.87 377.47,586.01 377.97,586.15 378.48,586.28 378.99,586.42 379.49,586.55 380.00,586.69 380.51,586.82 381.01,586.95 381.52,587.08 382.03,587.21 382.54,587.33 383.04,587.46 383.55,587.59 384.06,587.72 384.56,587.85 385.07,587.98 385.58,588.11 386.08,588.24 386.59,588.37 387.10,588.51 387.61,588.64 388.11,588.78 388.62,588.91 389.13,589.05 389.63,589.18 390.14,589.32 390.65,589.45 391.16,589.58 391.66,589.72 392.17,589.85 392.68,589.98 393.18,590.11 393.69,590.24 394.20,590.37 394.70,590.50 395.21,590.63 395.72,590.75 396.23,590.87 396.73,590.99 397.24,591.11 397.75,591.23 398.25,591.35 398.76,591.46 399.27,591.57 399.77,591.68 400.28,591.79 400.79,591.89 401.30,591.99 401.80,592.09 402.31,592.18 402.82,592.28 403.32,592.37 403.83,592.46 404.34,592.55 404.84,592.64 405.35,592.73 405.86,592.81 406.37,592.90 406.87,592.99 407.38,593.07 407.89,593.16 408.39,593.24 408.90,593.32 409.41,593.41 409.92,593.49 410.42,593.57 410.93,593.65 411.44,593.73 411.94,593.81 412.45,593.89 412.96,593.96 413.46,594.04 413.97,594.12 414.48,594.19 414.99,594.26 415.49,594.34 416.00,594.41 416.51,594.48 417.01,594.55 417.52,594.63 418.03,594.70 418.53,594.76 419.04,594.83 419.55,594.90 420.06,594.97 420.56,595.03 421.07,595.10 421.58,595.17 422.08,595.23 422.59,595.29 423.10,595.36 423.60,595.42 424.11,595.48 424.62,595.54 425.13,595.60 425.63,595.66 426.14,595.72 426.65,595.78 427.15,595.84 427.66,595.89 428.17,595.95 428.67,596.01 429.18,596.06 429.69,596.11 430.20,596.17 430.70,596.22 431.21,596.27 431.72,596.33 432.22,596.38 432.73,596.43 433.24,596.48 433.75,596.53 434.25,596.58 434.76,596.62 435.27,596.67 435.77,596.72 436.28,596.77 436.79,596.81 437.29,596.86 437.80,596.90 438.31,596.95 438.82,596.99 439.32,597.04 439.83,597.08 440.34,597.12 440.84,597.16 441.35,597.21 441.86,597.25 442.36,597.29 442.87,597.33 443.38,597.37 443.89,597.41 444.39,597.45 444.90,597.49 445.41,597.53 445.91,597.57 446.42,597.61 446.93,597.65 447.43,597.69 447.94,597.72 448.45,597.76 448.96,597.80 449.46,597.84 449.97,597.87 450.48,597.91 450.98,597.95 451.49,597.98 452.00,598.02 452.51,598.06 453.01,598.09 453.52,598.13 454.03,598.17 454.53,598.20 455.04,598.24 455.55,598.27 456.05,598.31 456.56,598.34 457.07,598.38 457.58,598.41 458.08,598.45 458.59,598.48 459.10,598.52 459.60,598.55 460.11,598.58 460.62,598.62 461.12,598.65 461.63,598.68 462.14,598.72 462.65,598.75 463.15,598.78 463.66,598.81 464.17,598.84 464.67,598.88 465.18,598.91 465.69,598.94 466.19,598.97 466.70,599.00 467.21,599.03 467.72,599.06 468.22,599.09 468.73,599.12 469.24,599.15 469.74,599.18 470.25,599.21 470.76,599.23 471.26,599.26 471.77,599.29 472.28,599.32 472.79,599.35 473.29,599.37 473.80,599.40" fill="none" stroke="#000" stroke-width="1.7" stroke-linejoin="round" />
<line x1="405.85" y1="471.75" x2="444.35" y2="471.75" stroke="#969696" stroke-width="0.9" />
<text transform="translate(448.35,476.25) scale(0.85,1)" font-size="13" text-anchor="start" fill="#000" >IN GW</text>
<line x1="405.85" y1="487.75" x2="444.35" y2="487.75" stroke="#000" stroke-width="1.5" />
<text transform="translate(448.35,492.25) scale(0.85,1)" font-size="13" text-anchor="start" fill="#000" >L5 GW</text>
<g fill="#9b9b9b"><rect x="593.56" y="542.47" width="1.000" height="1.69"/><rect x="594.53" y="540.80" width="1.000" height="3.36"/><rect x="595.50" y="539.15" width="1.000" height="5.01"/><rect x="596.47" y="537.52" width="1.000" height="6.63"/><rect x="597.44" y="535.65" width="1.000" height="8.50"/><rect x="598.41" y="533.58" width="1.000" height="10.58"/><rect x="599.38" y="531.78" width="1.000" height="12.38"/><rect x="600.36" y="530.72" width="1.000" height="13.43"/><rect x="601.33" y="530.83" width="1.000" height="13.33"/><rect x="602.30" y="531.90" width="1.000" height="12.26"/><rect x="603.27" y="533.45" width="1.000" height="10.71"/><rect x="604.24" y="535.25" width="1.000" height="8.90"/><rect x="605.21" y="537.76" width="1.000" height="6.40"/><rect x="606.18" y="540.79" width="1.000" height="3.36"/><rect x="608.12" y="544.16" width="1.000" height="4.21"/><rect x="609.09" y="544.16" width="1.000" height="9.24"/><rect x="610.06" y="544.16" width="1.000" height="14.04"/><rect x="611.03" y="544.16" width="1.000" height="17.79"/><rect x="612.00" y="544.16" width="1.000" height="21.12"/><rect x="612.97" y="544.16" width="1.000" height="24.03"/><rect x="613.95" y="544.16" width="1.000" height="26.34"/><rect x="614.92" y="544.16" width="1.000" height="28.27"/><rect x="615.89" y="544.16" width="1.000" height="29.29"/><rect x="616.86" y="544.16" width="1.000" height="28.23"/><rect x="617.83" y="544.16" width="1.000" height="25.69"/><rect x="618.80" y="544.16" width="1.000" height="22.67"/><rect x="619.77" y="544.16" width="1.000" height="19.78"/><rect x="620.74" y="544.16" width="1.000" height="16.02"/><rect x="621.71" y="544.16" width="1.000" height="12.52"/><rect x="622.68" y="544.16" width="1.000" height="10.79"/><rect x="623.65" y="544.16" width="1.000" height="11.36"/><rect x="624.62" y="544.16" width="1.000" height="12.96"/><rect x="625.59" y="544.16" width="1.000" height="14.88"/><rect x="626.57" y="544.16" width="1.000" height="16.44"/><rect x="627.54" y="544.16" width="1.000" height="17.79"/><rect x="628.51" y="544.16" width="1.000" height="19.09"/><rect x="629.48" y="544.16" width="1.000" height="20.38"/><rect x="630.45" y="544.16" width="1.000" height="21.70"/><rect x="631.42" y="544.16" width="1.000" height="23.07"/><rect x="632.39" y="544.16" width="1.000" height="24.68"/><rect x="633.36" y="544.16" width="1.000" height="26.62"/><rect x="634.33" y="544.16" width="1.000" height="28.65"/><rect x="635.30" y="544.16" width="1.000" height="30.55"/><rect x="636.27" y="544.16" width="1.000" height="32.07"/><rect x="637.24" y="544.16" width="1.000" height="33.00"/><rect x="638.21" y="544.16" width="1.000" height="32.96"/><rect x="639.19" y="544.16" width="1.000" height="31.00"/><rect x="640.16" y="544.16" width="1.000" height="27.68"/><rect x="641.13" y="544.16" width="1.000" height="23.93"/><rect x="642.10" y="544.16" width="1.000" height="19.75"/><rect x="643.07" y="544.16" width="1.000" height="14.33"/><rect x="644.04" y="544.16" width="1.000" height="8.94"/><rect x="645.01" y="544.16" width="1.000" height="4.83"/><rect x="645.98" y="544.16" width="1.000" height="1.20"/><rect x="646.95" y="542.36" width="1.000" height="1.79"/><rect x="647.92" y="541.12" width="1.000" height="3.04"/><rect x="648.89" y="542.00" width="1.000" height="2.16"/><rect x="649.86" y="543.80" width="1.000" height="0.36"/><rect x="650.83" y="544.16" width="1.000" height="1.63"/><rect x="651.80" y="544.16" width="1.000" height="4.18"/><rect x="652.78" y="544.16" width="1.000" height="6.96"/><rect x="653.75" y="544.16" width="1.000" height="9.61"/><rect x="654.72" y="544.16" width="1.000" height="11.86"/><rect x="655.69" y="544.16" width="1.000" height="13.96"/><rect x="656.66" y="544.16" width="1.000" height="15.97"/><rect x="657.63" y="544.16" width="1.000" height="17.87"/><rect x="658.60" y="544.16" width="1.000" height="19.64"/><rect x="659.57" y="544.16" width="1.000" height="21.28"/><rect x="660.54" y="544.16" width="1.000" height="23.04"/><rect x="661.51" y="544.16" width="1.000" height="23.68"/><rect x="662.48" y="544.16" width="1.000" height="21.31"/><rect x="663.45" y="544.16" width="1.000" height="17.25"/><rect x="664.42" y="544.16" width="1.000" height="13.04"/><rect x="665.40" y="544.16" width="1.000" height="7.87"/><rect x="666.37" y="544.16" width="1.000" height="1.45"/><rect x="667.34" y="536.58" width="1.000" height="7.57"/><rect x="668.31" y="525.36" width="1.000" height="18.79"/><rect x="669.28" y="513.46" width="1.000" height="30.70"/><rect x="670.25" y="504.83" width="1.000" height="39.33"/><rect x="671.22" y="499.52" width="1.000" height="44.63"/><rect x="672.19" y="497.18" width="1.000" height="46.98"/><rect x="673.16" y="498.13" width="1.000" height="46.03"/><rect x="674.13" y="500.23" width="1.000" height="43.92"/><rect x="675.10" y="502.37" width="1.000" height="41.79"/><rect x="676.07" y="503.94" width="1.000" height="40.22"/><rect x="677.04" y="505.44" width="1.000" height="38.72"/><rect x="678.02" y="506.79" width="1.000" height="37.37"/><rect x="678.99" y="507.88" width="1.000" height="36.28"/><rect x="679.96" y="508.92" width="1.000" height="35.24"/><rect x="680.93" y="509.84" width="1.000" height="34.32"/><rect x="681.90" y="510.39" width="1.000" height="33.77"/><rect x="682.87" y="510.07" width="1.000" height="34.08"/><rect x="683.84" y="508.15" width="1.000" height="36.00"/><rect x="684.81" y="505.29" width="1.000" height="38.87"/><rect x="685.78" y="501.28" width="1.000" height="42.88"/><rect x="686.75" y="495.07" width="1.000" height="49.09"/><rect x="687.72" y="489.16" width="1.000" height="54.99"/><rect x="688.69" y="482.86" width="1.000" height="61.30"/><rect x="689.66" y="478.43" width="1.000" height="65.73"/><rect x="690.63" y="478.67" width="1.000" height="65.49"/><rect x="691.61" y="479.75" width="1.000" height="64.41"/><rect x="692.58" y="477.69" width="1.000" height="66.46"/><rect x="693.55" y="475.66" width="1.000" height="68.49"/><rect x="694.52" y="479.46" width="1.000" height="64.69"/><rect x="695.49" y="484.93" width="1.000" height="59.22"/><rect x="696.46" y="491.09" width="1.000" height="53.06"/><rect x="697.43" y="497.47" width="1.000" height="46.69"/><rect x="698.40" y="502.58" width="1.000" height="41.58"/><rect x="699.37" y="506.39" width="1.000" height="37.77"/><rect x="700.34" y="510.73" width="1.000" height="33.43"/><rect x="701.31" y="517.52" width="1.000" height="26.64"/><rect x="702.28" y="526.09" width="1.000" height="18.06"/><rect x="703.25" y="535.53" width="1.000" height="8.63"/><rect x="705.20" y="544.16" width="1.000" height="5.25"/><rect x="706.17" y="544.16" width="1.000" height="8.94"/><rect x="707.14" y="544.16" width="1.000" height="9.14"/><rect x="708.11" y="544.16" width="1.000" height="4.60"/><rect x="709.08" y="541.00" width="1.000" height="3.15"/><rect x="710.05" y="531.11" width="1.000" height="13.05"/><rect x="711.02" y="521.49" width="1.000" height="22.67"/><rect x="711.99" y="514.86" width="1.000" height="29.29"/><rect x="712.96" y="511.22" width="1.000" height="32.93"/><rect x="713.93" y="508.58" width="1.000" height="35.58"/><rect x="714.90" y="507.75" width="1.000" height="36.40"/><rect x="715.87" y="514.21" width="1.000" height="29.95"/><rect x="716.85" y="522.13" width="1.000" height="22.03"/><rect x="717.82" y="528.92" width="1.000" height="15.24"/><rect x="718.79" y="534.88" width="1.000" height="9.27"/><rect x="719.76" y="539.27" width="1.000" height="4.89"/><rect x="720.73" y="542.84" width="1.000" height="1.32"/><rect x="721.70" y="544.16" width="1.000" height="1.74"/><rect x="722.67" y="544.16" width="1.000" height="4.13"/><rect x="723.64" y="544.16" width="1.000" height="6.86"/><rect x="724.61" y="544.16" width="1.000" height="11.41"/><rect x="725.58" y="544.16" width="1.000" height="20.25"/><rect x="726.55" y="544.16" width="1.000" height="29.39"/><rect x="727.52" y="544.16" width="1.000" height="37.19"/><rect x="728.49" y="544.16" width="1.000" height="44.04"/><rect x="729.46" y="544.16" width="1.000" height="45.67"/><rect x="730.44" y="544.16" width="1.000" height="42.78"/><rect x="731.41" y="544.16" width="1.000" height="37.18"/><rect x="732.38" y="544.16" width="1.000" height="26.13"/><rect x="733.35" y="544.16" width="1.000" height="15.91"/><rect x="734.32" y="544.16" width="1.000" height="6.99"/><rect x="735.29" y="542.36" width="1.000" height="1.79"/><rect x="736.26" y="533.16" width="1.000" height="11.00"/><rect x="737.23" y="526.12" width="1.000" height="18.04"/><rect x="738.20" y="520.77" width="1.000" height="23.39"/><rect x="739.17" y="523.14" width="1.000" height="21.01"/><rect x="740.14" y="532.11" width="1.000" height="12.05"/><rect x="741.11" y="539.47" width="1.000" height="4.68"/><rect x="742.08" y="544.16" width="1.000" height="3.39"/><rect x="743.06" y="544.16" width="1.000" height="12.46"/><rect x="744.03" y="544.16" width="1.000" height="21.29"/><rect x="745.00" y="544.16" width="1.000" height="30.04"/><rect x="745.97" y="544.16" width="1.000" height="38.31"/><rect x="746.94" y="544.16" width="1.000" height="45.77"/><rect x="747.91" y="544.16" width="1.000" height="52.69"/><rect x="748.88" y="544.16" width="1.000" height="59.24"/><rect x="749.85" y="544.16" width="1.000" height="65.59"/><rect x="750.82" y="544.16" width="1.000" height="73.02"/><rect x="751.79" y="544.16" width="1.000" height="80.22"/><rect x="752.76" y="544.16" width="1.000" height="84.16"/><rect x="753.73" y="544.16" width="1.000" height="80.80"/><rect x="754.70" y="544.16" width="1.000" height="71.85"/><rect x="755.68" y="544.16" width="1.000" height="61.32"/><rect x="756.65" y="544.16" width="1.000" height="48.79"/><rect x="757.62" y="544.16" width="1.000" height="35.81"/><rect x="758.59" y="544.16" width="1.000" height="21.77"/><rect x="759.56" y="544.16" width="1.000" height="6.78"/><rect x="760.53" y="531.36" width="1.000" height="12.80"/><rect x="761.50" y="511.82" width="1.000" height="32.34"/><rect x="762.47" y="499.04" width="1.000" height="45.12"/><rect x="763.44" y="494.83" width="1.000" height="49.32"/><rect x="764.41" y="495.67" width="1.000" height="48.48"/><rect x="765.38" y="510.18" width="1.000" height="33.97"/><rect x="766.35" y="522.16" width="1.000" height="22.00"/><rect x="767.32" y="526.48" width="1.000" height="17.67"/><rect x="768.29" y="528.93" width="1.000" height="15.22"/><rect x="769.27" y="531.00" width="1.000" height="13.16"/><rect x="770.24" y="533.80" width="1.000" height="10.36"/><rect x="771.21" y="537.13" width="1.000" height="7.03"/><rect x="772.18" y="540.16" width="1.000" height="3.99"/><rect x="773.15" y="542.12" width="1.000" height="2.03"/><rect x="774.12" y="543.68" width="1.000" height="0.48"/><rect x="775.09" y="544.16" width="1.000" height="4.91"/><rect x="776.06" y="544.16" width="1.000" height="6.59"/></g>
<path d="M594.53 540.80v3.36M596.47 537.52v6.63M598.41 533.58v10.58M600.36 530.72v13.43M602.30 531.90v12.26M604.24 535.25v8.90M606.18 540.79v3.36M608.12 544.16v4.21M610.06 544.16v14.04M612.00 544.16v21.12M613.95 544.16v26.34M615.89 544.16v29.29M617.83 544.16v25.69M619.77 544.16v19.78M621.71 544.16v12.52M623.65 544.16v11.36M625.59 544.16v14.88M627.54 544.16v17.79M629.48 544.16v20.38M631.42 544.16v23.07M633.36 544.16v26.62M635.30 544.16v30.55M637.24 544.16v33.00M639.19 544.16v31.00M641.13 544.16v23.93M643.07 544.16v14.33M645.01 544.16v4.83M646.95 542.36v1.79M648.89 542.00v2.16M650.83 544.16v1.63M652.78 544.16v6.96M654.72 544.16v11.86M656.66 544.16v15.97M658.60 544.16v19.64M660.54 544.16v23.04M662.48 544.16v21.31M664.42 544.16v13.04M666.37 544.16v1.45M668.31 525.36v18.79M670.25 504.83v39.33M672.19 497.18v46.98M674.13 500.23v43.92M676.07 503.94v40.22M678.02 506.79v37.37M679.96 508.92v35.24M681.90 510.39v33.77M683.84 508.15v36.00M685.78 501.28v42.88M687.72 489.16v54.99M689.66 478.43v65.73M691.61 479.75v64.41M693.55 475.66v68.49M695.49 484.93v59.22M697.43 497.47v46.69M699.37 506.39v37.77M701.31 517.52v26.64M703.25 535.53v8.63M705.20 544.16v5.25M707.14 544.16v9.14M709.08 541.00v3.15M711.02 521.49v22.67M712.96 511.22v32.93M714.90 507.75v36.40M716.85 522.13v22.03M718.79 534.88v9.27M720.73 542.84v1.32M722.67 544.16v4.13M724.61 544.16v11.41M726.55 544.16v29.39M728.49 544.16v44.04M730.44 544.16v42.78M732.38 544.16v26.13M734.32 544.16v6.99M736.26 533.16v11.00M738.20 520.77v23.39M740.14 532.11v12.05M742.08 544.16v3.39M744.03 544.16v21.29M745.97 544.16v38.31M747.91 544.16v52.69M749.85 544.16v65.59M751.79 544.16v80.22M753.73 544.16v80.80M755.68 544.16v61.32M757.62 544.16v35.81M759.56 544.16v6.78M761.50 511.82v32.34M763.44 494.83v49.32M765.38 510.18v33.97M767.32 526.48v17.67M769.27 531.00v13.16M771.21 537.13v7.03M773.15 542.12v2.03M775.09 544.16v4.91" stroke="#d2d2d2" stroke-width="0.62" fill="none"/>
<path d="M597.93 535.65v8.50M603.75 533.45v10.71M609.58 544.16v9.24M615.40 544.16v28.27M621.23 544.16v16.02M627.05 544.16v16.44M632.88 544.16v24.68M638.70 544.16v32.96M644.52 544.16v8.94M650.35 543.80v0.36M656.17 544.16v13.96M662.00 544.16v23.68M667.82 536.58v7.57M673.65 498.13v46.03M679.47 507.88v36.28M685.30 505.29v38.87M691.12 478.67v65.49M696.94 491.09v53.06M702.77 526.09v18.06M708.59 544.16v4.60M714.42 508.58v35.58M720.24 539.27v4.89M726.07 544.16v20.25M731.89 544.16v37.18M737.72 526.12v18.04M743.54 544.16v12.46M749.37 544.16v59.24M755.19 544.16v71.85M761.01 531.36v12.80M766.84 522.16v22.00M772.66 540.16v3.99" stroke="#7c7c7c" stroke-width="0.5" fill="none"/>
<line x1="587.25" y1="461.25" x2="781.40" y2="461.25" stroke="#111" stroke-width="1.0" />
<line x1="781.40" y1="461.25" x2="781.40" y2="654.70" stroke="#111" stroke-width="1.0" />
<line x1="587.25" y1="460.55" x2="587.25" y2="655.40" stroke="#000" stroke-width="1.75" />
<line x1="587.25" y1="654.70" x2="781.40" y2="654.70" stroke="#000" stroke-width="1.75" />
<line x1="587.25" y1="544.31" x2="781.40" y2="544.31" stroke="#000" stroke-width="1.5" />
<line x1="594.35" y1="488.89" x2="778.90" y2="488.89" stroke="#000" stroke-width="1.5" stroke-dasharray="5.4 2.65"/>
<line x1="594.35" y1="599.43" x2="778.90" y2="599.43" stroke="#000" stroke-width="1.5" stroke-dasharray="5.4 2.65"/>
<line x1="580.05" y1="461.25" x2="587.25" y2="461.25" stroke="#000" stroke-width="1.5" />
<text transform="translate(571.65,466.25) scale(0.793,1)" font-size="14.0" text-anchor="end" fill="#000" >0.3</text>
<line x1="580.05" y1="488.89" x2="587.25" y2="488.89" stroke="#000" stroke-width="1.5" />
<text transform="translate(571.65,493.89) scale(0.793,1)" font-size="14.0" text-anchor="end" fill="#000" >0.2</text>
<line x1="580.05" y1="516.52" x2="587.25" y2="516.52" stroke="#000" stroke-width="1.5" />
<text transform="translate(571.65,521.52) scale(0.793,1)" font-size="14.0" text-anchor="end" fill="#000" >0.1</text>
<line x1="580.05" y1="544.16" x2="587.25" y2="544.16" stroke="#000" stroke-width="1.5" />
<text transform="translate(571.65,549.16) scale(0.793,1)" font-size="14.0" text-anchor="end" fill="#000" >0.0</text>
<line x1="580.05" y1="571.79" x2="587.25" y2="571.79" stroke="#000" stroke-width="1.5" />
<text transform="translate(571.65,576.79) scale(0.793,1)" font-size="14.0" text-anchor="end" fill="#000" >–0.1</text>
<line x1="580.05" y1="599.43" x2="587.25" y2="599.43" stroke="#000" stroke-width="1.5" />
<text transform="translate(571.65,604.43) scale(0.793,1)" font-size="14.0" text-anchor="end" fill="#000" >–0.2</text>
<line x1="580.05" y1="627.06" x2="587.25" y2="627.06" stroke="#000" stroke-width="1.5" />
<text transform="translate(571.65,632.06) scale(0.793,1)" font-size="14.0" text-anchor="end" fill="#000" >–0.3</text>
<line x1="580.05" y1="654.70" x2="587.25" y2="654.70" stroke="#000" stroke-width="1.5" />
<text transform="translate(571.65,659.70) scale(0.793,1)" font-size="14.0" text-anchor="end" fill="#000" >–0.4</text>
<line x1="587.25" y1="654.70" x2="587.25" y2="661.90" stroke="#000" stroke-width="1.5" />
<text transform="translate(586.85,679.60) scale(0.793,1)" font-size="14.0" text-anchor="middle" fill="#000" >–100</text>
<line x1="635.79" y1="654.70" x2="635.79" y2="661.90" stroke="#000" stroke-width="1.5" />
<text transform="translate(635.39,679.60) scale(0.793,1)" font-size="14.0" text-anchor="middle" fill="#000" >–50</text>
<line x1="684.33" y1="654.70" x2="684.33" y2="661.90" stroke="#000" stroke-width="1.5" />
<text transform="translate(683.93,679.60) scale(0.793,1)" font-size="14.0" text-anchor="middle" fill="#000" >0</text>
<line x1="732.86" y1="654.70" x2="732.86" y2="661.90" stroke="#000" stroke-width="1.5" />
<text transform="translate(732.46,679.60) scale(0.793,1)" font-size="14.0" text-anchor="middle" fill="#000" >50</text>
<line x1="781.40" y1="654.70" x2="781.40" y2="661.90" stroke="#000" stroke-width="1.5" />
<text transform="translate(781.00,679.60) scale(0.793,1)" font-size="14.0" text-anchor="middle" fill="#000" >100</text>
<text transform="translate(683.93,695.70) scale(0.89,1)" font-size="15.2" text-anchor="middle" fill="#000" >Lag</text>
<text transform="translate(585.45,417.65) scale(0.847,1)" font-size="15.5" text-anchor="start" fill="#000" >Period:</text>
<text transform="translate(585.25,437.65) scale(0.855,1)" font-size="17.5" text-anchor="start" fill="#000" >Kostelec, 09.09.2023</text>
<rect x="749.60" y="409.35" width="97.2" height="32.6" rx="0.3" fill="#fff" stroke="#5e5e5e" stroke-width="0.9"/>
<text transform="translate(798.60,429.65) scale(0.84,1)" font-size="15.5" text-anchor="middle" fill="#000" ><tspan font-style="italic">r</tspan>: –; lag: +</text>
<text transform="translate(878.55,402.05) scale(0.847,1)" font-size="15.5" text-anchor="start" fill="#000" >Position:</text>
<text transform="translate(878.55,420.45) scale(0.847,1)" font-size="15.5" text-anchor="start" fill="#000" >ground water level R4:</text>
<text transform="translate(878.55,438.25) scale(0.847,1)" font-size="15.5" text-anchor="start" fill="#000" ><tspan font-style="italic">r</tspan>: –0.30; lag: 71</text>
<line x1="845.86" y1="461.25" x2="1039.90" y2="461.25" stroke="#111" stroke-width="1.0" />
<line x1="845.86" y1="460.55" x2="845.86" y2="655.40" stroke="#000" stroke-width="1.75" />
<line x1="845.86" y1="654.70" x2="1039.90" y2="654.70" stroke="#000" stroke-width="1.75" />
<line x1="1039.90" y1="460.55" x2="1039.90" y2="655.40" stroke="#000" stroke-width="1.75" />
<line x1="838.66" y1="654.70" x2="845.86" y2="654.70" stroke="#000" stroke-width="1.5" />
<text transform="translate(830.26,660.10) scale(0.793,1)" font-size="14.0" text-anchor="end" fill="#000" >350</text>
<line x1="838.66" y1="628.85" x2="845.86" y2="628.85" stroke="#000" stroke-width="1.5" />
<text transform="translate(830.26,634.25) scale(0.793,1)" font-size="14.0" text-anchor="end" fill="#000" >370</text>
<line x1="838.66" y1="603.01" x2="845.86" y2="603.01" stroke="#000" stroke-width="1.5" />
<text transform="translate(830.26,608.41) scale(0.793,1)" font-size="14.0" text-anchor="end" fill="#000" >390</text>
<line x1="838.66" y1="577.16" x2="845.86" y2="577.16" stroke="#000" stroke-width="1.5" />
<text transform="translate(830.26,582.56) scale(0.793,1)" font-size="14.0" text-anchor="end" fill="#000" >410</text>
<line x1="838.66" y1="551.32" x2="845.86" y2="551.32" stroke="#000" stroke-width="1.5" />
<text transform="translate(830.26,556.72) scale(0.793,1)" font-size="14.0" text-anchor="end" fill="#000" >430</text>
<line x1="838.66" y1="525.47" x2="845.86" y2="525.47" stroke="#000" stroke-width="1.5" />
<text transform="translate(830.26,530.87) scale(0.793,1)" font-size="14.0" text-anchor="end" fill="#000" >450</text>
<line x1="838.66" y1="499.63" x2="845.86" y2="499.63" stroke="#000" stroke-width="1.5" />
<text transform="translate(830.26,505.03) scale(0.793,1)" font-size="14.0" text-anchor="end" fill="#000" >470</text>
<line x1="838.66" y1="473.78" x2="845.86" y2="473.78" stroke="#000" stroke-width="1.5" />
<text transform="translate(830.26,479.18) scale(0.793,1)" font-size="14.0" text-anchor="end" fill="#000" >490</text>
<line x1="1039.90" y1="654.70" x2="1047.10" y2="654.70" stroke="#000" stroke-width="1.5" />
<text transform="translate(1054.90,660.10) scale(0.793,1)" font-size="14.0" text-anchor="start" fill="#000" >1600</text>
<line x1="1039.90" y1="616.01" x2="1047.10" y2="616.01" stroke="#000" stroke-width="1.5" />
<text transform="translate(1054.90,621.41) scale(0.793,1)" font-size="14.0" text-anchor="start" fill="#000" >1610</text>
<line x1="1039.90" y1="577.32" x2="1047.10" y2="577.32" stroke="#000" stroke-width="1.5" />
<text transform="translate(1054.90,582.72) scale(0.793,1)" font-size="14.0" text-anchor="start" fill="#000" >1620</text>
<line x1="1039.90" y1="538.63" x2="1047.10" y2="538.63" stroke="#000" stroke-width="1.5" />
<text transform="translate(1054.90,544.03) scale(0.793,1)" font-size="14.0" text-anchor="start" fill="#000" >1630</text>
<line x1="1039.90" y1="499.94" x2="1047.10" y2="499.94" stroke="#000" stroke-width="1.5" />
<text transform="translate(1054.90,505.34) scale(0.793,1)" font-size="14.0" text-anchor="start" fill="#000" >1640</text>
<line x1="1039.90" y1="461.25" x2="1047.10" y2="461.25" stroke="#000" stroke-width="1.5" />
<text transform="translate(1054.90,466.65) scale(0.793,1)" font-size="14.0" text-anchor="start" fill="#000" >1650</text>
<line x1="845.86" y1="654.70" x2="845.86" y2="661.90" stroke="#000" stroke-width="1.5" />
<text transform="translate(850.46,669.70) rotate(-90) scale(0.793,1)" font-size="14.0" text-anchor="end" fill="#000" >08.09.2023</text>
<line x1="878.20" y1="654.70" x2="878.20" y2="661.90" stroke="#000" stroke-width="1.5" />
<text transform="translate(882.80,669.70) rotate(-90) scale(0.793,1)" font-size="14.0" text-anchor="end" fill="#000" >09.09.2023</text>
<line x1="910.54" y1="654.70" x2="910.54" y2="661.90" stroke="#000" stroke-width="1.5" />
<text transform="translate(915.14,669.70) rotate(-90) scale(0.793,1)" font-size="14.0" text-anchor="end" fill="#000" >10.09.2023</text>
<line x1="942.88" y1="654.70" x2="942.88" y2="661.90" stroke="#000" stroke-width="1.5" />
<text transform="translate(947.48,669.70) rotate(-90) scale(0.793,1)" font-size="14.0" text-anchor="end" fill="#000" >11.09.2023</text>
<line x1="975.22" y1="654.70" x2="975.22" y2="661.90" stroke="#000" stroke-width="1.5" />
<text transform="translate(979.82,669.70) rotate(-90) scale(0.793,1)" font-size="14.0" text-anchor="end" fill="#000" >12.09.2023</text>
<line x1="1007.56" y1="654.70" x2="1007.56" y2="661.90" stroke="#000" stroke-width="1.5" />
<text transform="translate(1012.16,669.70) rotate(-90) scale(0.793,1)" font-size="14.0" text-anchor="end" fill="#000" >13.09.2023</text>
<line x1="1039.90" y1="654.70" x2="1039.90" y2="661.90" stroke="#000" stroke-width="1.5" />
<text transform="translate(1044.50,669.70) rotate(-90) scale(0.793,1)" font-size="14.0" text-anchor="end" fill="#000" >14.09.2023</text>
<text transform="translate(942.28,741.00) scale(0.87,1)" font-size="15.2" text-anchor="middle" fill="#000" >Date</text>
<text transform="translate(799.16,556.77) rotate(-90) scale(0.885,1)" font-size="15.3" text-anchor="middle" fill="#000" >Water level IN, mm</text>
<text transform="translate(1094.10,557.48) rotate(-90) scale(0.885,1)" font-size="15.3" text-anchor="middle" fill="#000" >Water level L1, mm</text>
<polyline points="866.30,631.00 866.77,615.69 867.48,578.02 868.19,535.64 868.89,500.32 869.60,477.95 869.83,483.84 870.54,490.90 871.48,500.32 873.37,508.56 876.19,513.27 880.90,517.98 887.96,523.87 895.03,529.75 902.09,535.64 909.16,540.35 916.22,543.88 923.28,546.94 930.35,549.77 937.41,553.30 944.47,556.36 951.54,558.71 958.60,560.36 965.67,562.72 972.73,565.07 979.79,568.60 986.86,571.43 993.92,573.31 1000.99,575.20 1008.05,576.84 1017.00,580.38" fill="none" stroke="#969696" stroke-width="0.9" stroke-linejoin="round" />
<polyline points="866.30,542.70 870.54,542.70 871.95,544.59 873.37,546.70 877.37,546.70 878.55,544.59 879.49,542.70 882.31,542.70 883.73,539.88 885.14,536.82 886.55,534.46 887.96,531.64 892.67,531.64 894.09,529.05 895.03,527.40 899.27,527.40 900.68,529.75 901.62,531.64 903.50,531.64 904.92,535.64 906.80,539.88 908.68,543.88 910.57,546.23 911.98,548.59 913.39,550.94 914.81,548.59 916.22,546.23 918.10,546.23 919.52,540.35 920.46,535.17 932.70,535.17 934.11,531.64 939.29,531.64 940.71,535.17 942.59,539.88 944.47,544.59 946.83,549.77 949.18,554.00 955.31,554.00 956.72,547.41 958.60,541.52 960.02,535.64 961.43,531.40 977.44,531.40 978.85,534.46 980.74,538.46 982.62,543.88 983.56,549.77 985.45,552.12 987.33,555.65 989.68,560.36 991.10,568.60 992.51,574.02 993.45,574.02 994.86,566.25 996.28,556.83 998.16,545.06 999.57,537.99 1000.51,535.17 1017.47,535.17" fill="none" stroke="#000" stroke-width="1.5" stroke-linejoin="round" />
<line x1="957.16" y1="471.75" x2="995.66" y2="471.75" stroke="#969696" stroke-width="0.9" />
<text transform="translate(999.66,476.25) scale(0.85,1)" font-size="13" text-anchor="start" fill="#000" >IN GW</text>
<line x1="972.56" y1="487.25" x2="988.66" y2="487.25" stroke="#969696" stroke-width="0.9" />
<text transform="translate(999.66,492.25) scale(0.85,1)" font-size="13" text-anchor="start" fill="#000" >R4 GW</text>
<rect x="998.86" y="484.15" width="14.6" height="6.9" fill="#fff"/>
</svg>
</body></html>
